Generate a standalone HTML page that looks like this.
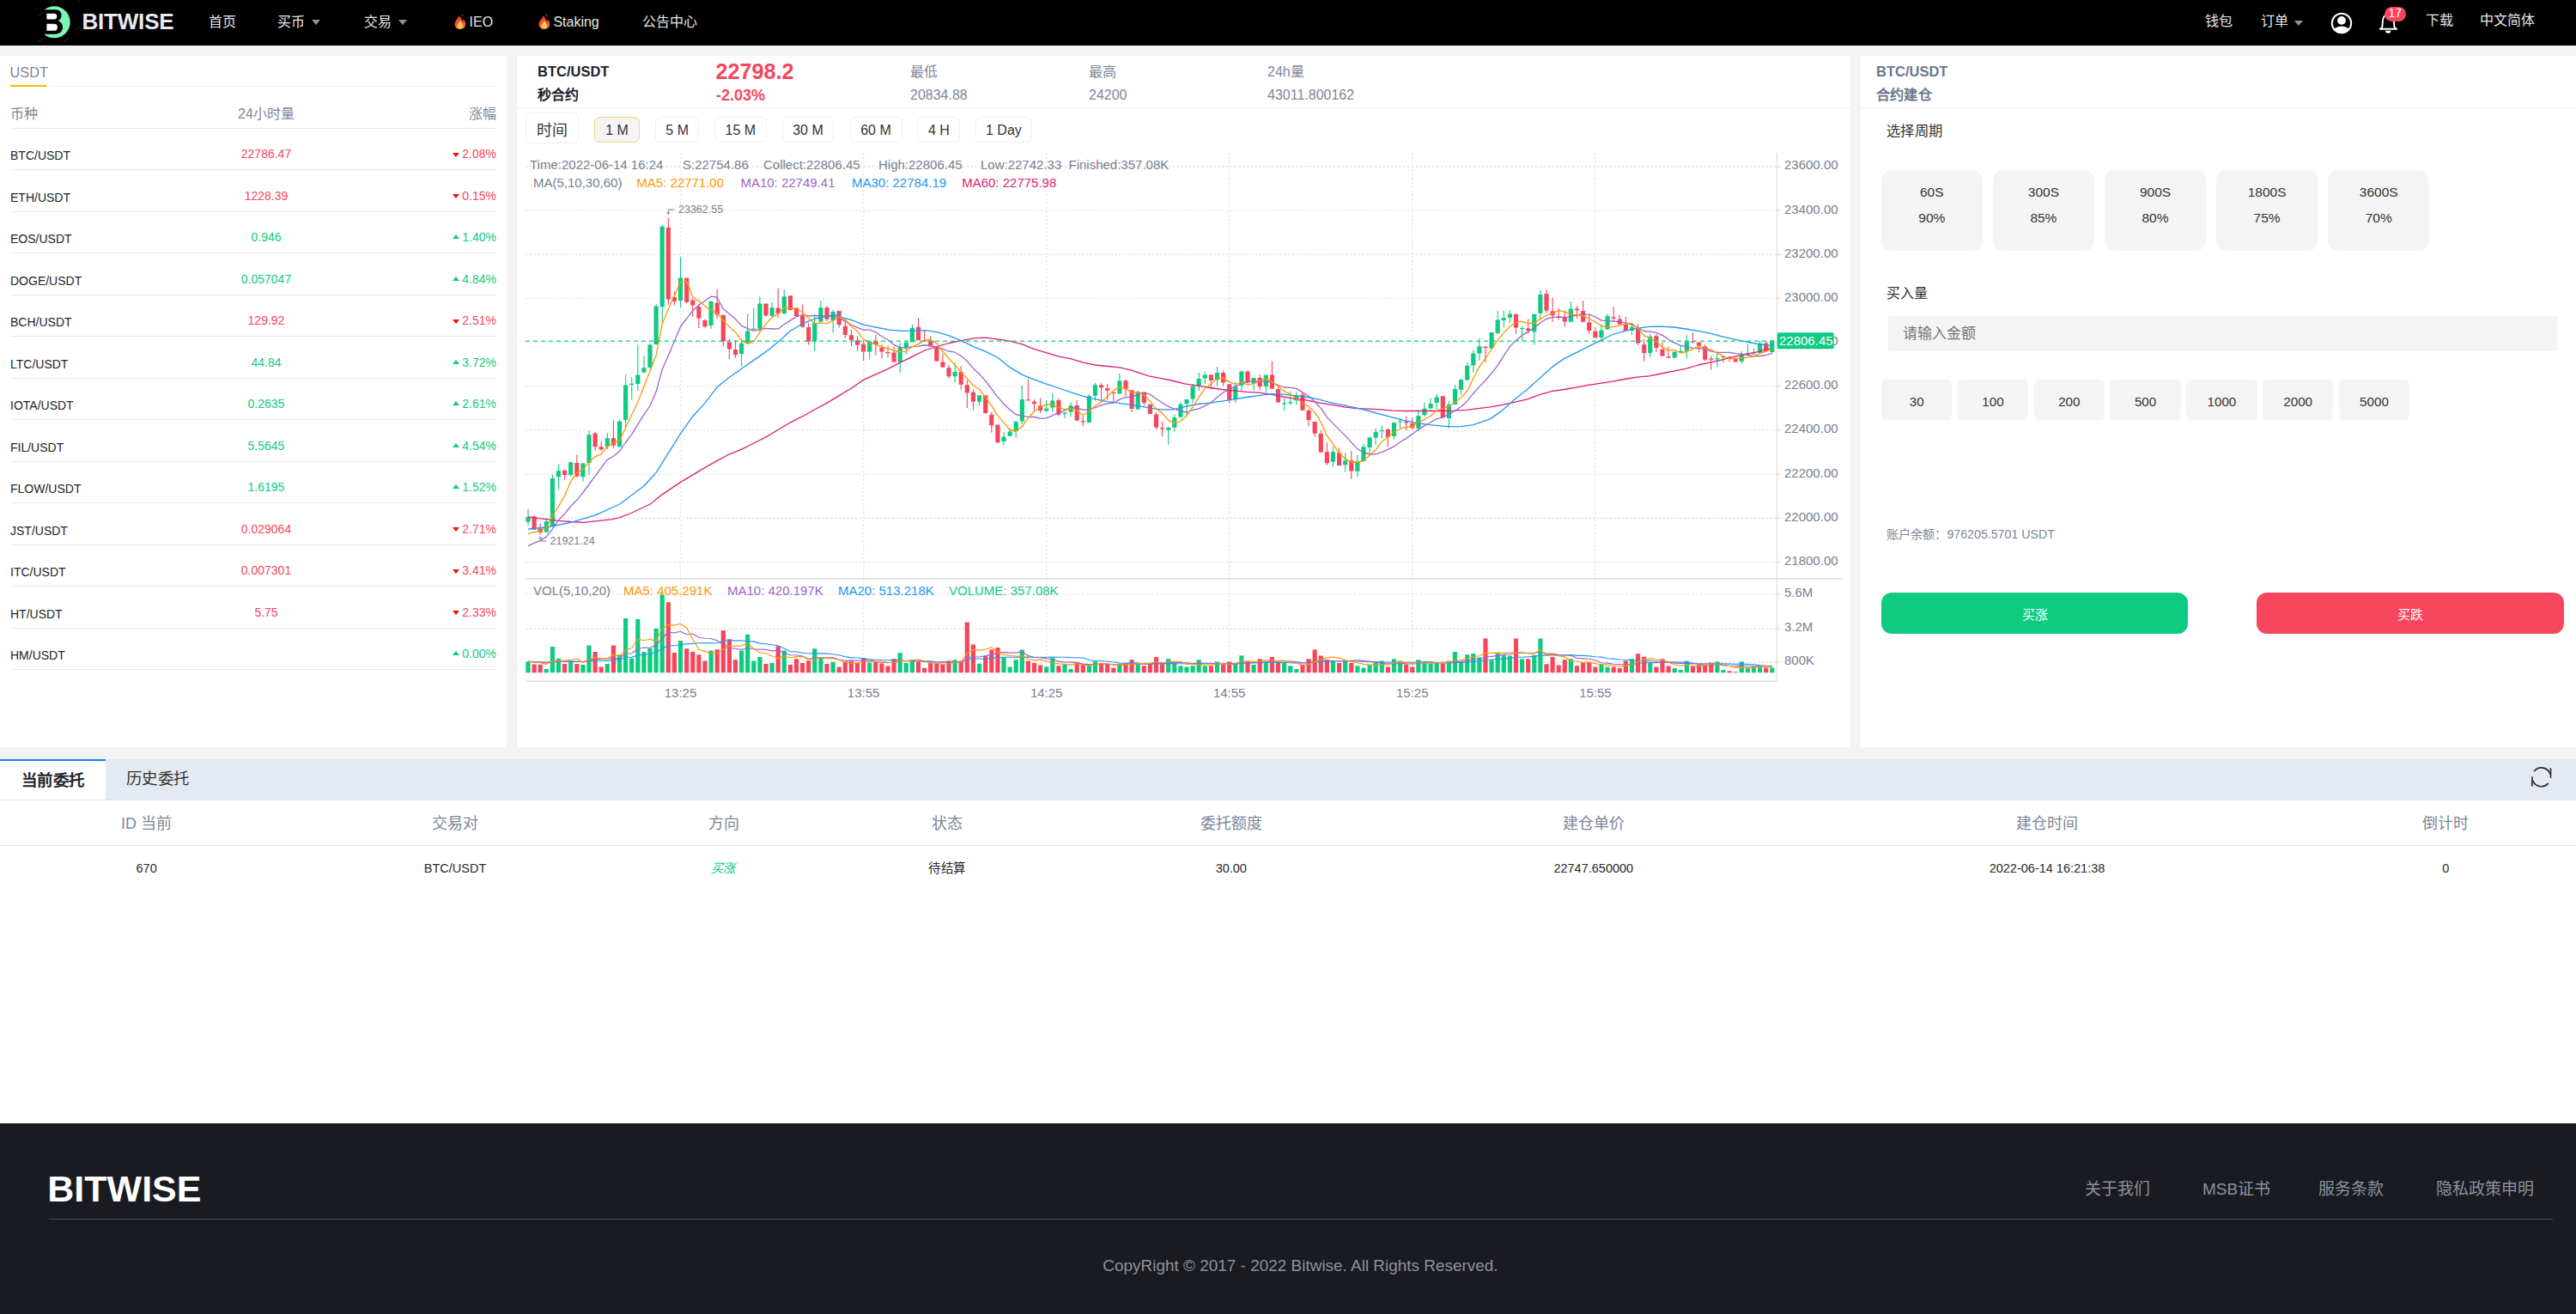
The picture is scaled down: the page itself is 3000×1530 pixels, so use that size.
<!DOCTYPE html>
<html lang="zh-CN"><head><meta charset="utf-8"><title>BITWISE - 秒合约</title>
<style>
*{margin:0;padding:0;box-sizing:content-box}
html,body{width:3000px;height:1530px;overflow:hidden;background:#f3f3f3;font-family:"Liberation Sans", sans-serif}
.box{position:absolute}
.t{position:absolute;white-space:nowrap}
.c{display:inline-block;width:1em;text-align:center}
svg text{font-family:"Liberation Sans", sans-serif}
.gd{stroke:#e3e3e3;stroke-width:1.3;stroke-dasharray:2.4,2.4}
.ax{font-size:15px;fill:#76808F}
.mk{font-size:12.5px;fill:#76808F}
.tt{font-size:15px;fill:#76808F}
</style></head>
<body>
<div class="box" style="left:0;top:0;width:3000px;height:53px;background:#000"></div>
<svg class="box" style="left:38px;top:0" width="62" height="53" viewBox="38 0 62 53">
<g stroke="#262626" stroke-width="1.1" stroke-linecap="round"><path d="M59.4 4.8L63.5 0.6M45.3 18.6L50.2 14.3M88.5 34.7L93.3 30.3M45.3 48.4L49.8 44.2M75.2 48.4L79.4 44.2"/></g>
<g fill="#222"><circle cx="40.9" cy="10.1" r="0.8"/><circle cx="40.9" cy="39.5" r="0.8"/><circle cx="84" cy="23.6" r="0.8"/><circle cx="92.5" cy="1" r="0.8"/></g>
<defs><clipPath id="lc"><rect x="52" y="0" width="40" height="53"/></clipPath></defs>
<circle cx="63.2" cy="25.8" r="18.5" fill="#7af7b6" clip-path="url(#lc)"/>
<path d="M52 11.3H64.5C69.5 11.3 71.6 14.5 71.6 17.8C71.6 21 69.8 23.2 67.8 24.3C71 25.4 73 28.2 73 31.6C73 36.5 69.6 39.8 64 39.8H52Z" fill="#000"/>
<path d="M54.4 15.7H63.2C65.2 15.7 66.3 17 66.3 19.1C66.3 21.3 65.2 22.6 63.2 22.6H54.4Z" fill="#fff"/>
<path d="M54.4 27.8H63.5C65.6 27.8 66.9 29.3 66.9 31.7C66.9 34.2 65.6 35.7 63.5 35.7H54.4Z" fill="#fff"/>
</svg>
<div class="t" style="left:95.5px;top:12.0px;font-size:26px;line-height:26px;color:#e9e9ef;font-weight:bold;letter-spacing:-0.2px;">BITWISE</div>
<div class="t" style="left:242.6px;top:17.5px;font-size:16px;line-height:16px;color:#e4e5e9;"><span class="c">首</span><span class="c">页</span></div>
<div class="t" style="left:323.4px;top:17.5px;font-size:16px;line-height:16px;color:#e4e5e9;"><span class="c">买</span><span class="c">币</span></div>
<div class="t" style="left:424.3px;top:17.5px;font-size:16px;line-height:16px;color:#e4e5e9;"><span class="c">交</span><span class="c">易</span></div>
<div class="box" style="left:363px;top:23.3px;width:0;height:0;border-left:5.2px solid transparent;border-right:5.2px solid transparent;border-top:6.2px solid #8a94a6"></div>
<div class="box" style="left:463.9px;top:23.3px;width:0;height:0;border-left:5.2px solid transparent;border-right:5.2px solid transparent;border-top:6.2px solid #8a94a6"></div>
<div class="box" style="left:528.5px;top:16px"><svg width="14" height="19" viewBox="0 0 14 19"><defs><linearGradient id="fg1" x1="0" y1="0" x2="0" y2="1"><stop offset="0" stop-color="#f2352a"/><stop offset="0.55" stop-color="#f0532e"/><stop offset="1" stop-color="#f49a2c"/></linearGradient><linearGradient id="fy1" x1="0" y1="0" x2="0" y2="1"><stop offset="0" stop-color="#fde88a"/><stop offset="1" stop-color="#f7b634"/></linearGradient></defs><path d="M5.9 2.2C7.5 4 8.8 6 9.3 8.4C9.8 7.8 10.5 7.3 11.3 7C12.5 8.6 13.3 10.4 13.2 12.3C13.1 15.6 10.4 18 6.9 18C3.4 18 0.6 15.6 0.6 12.2C0.6 8.5 3.6 6.2 5.9 2.2Z" fill="url(#fg1)"/><path d="M6.9 8C8 10.5 10.2 12.2 10.2 14.6C10.2 16.5 8.7 17.7 6.9 17.7C5.1 17.7 3.7 16.5 3.7 14.6C3.7 12.2 6 10.6 6.9 8Z" fill="url(#fy1)"/><path d="M8.5 1.2L9.9 0.5L10.7 2.3L9.3 3Z" fill="#c4301e"/></svg></div>
<div class="t" style="left:546.6px;top:17.5px;font-size:16px;line-height:16px;color:#e4e5e9;">IEO</div>
<div class="box" style="left:626.5px;top:16px"><svg width="14" height="19" viewBox="0 0 14 19"><defs><linearGradient id="fg2" x1="0" y1="0" x2="0" y2="1"><stop offset="0" stop-color="#f2352a"/><stop offset="0.55" stop-color="#f0532e"/><stop offset="1" stop-color="#f49a2c"/></linearGradient><linearGradient id="fy2" x1="0" y1="0" x2="0" y2="1"><stop offset="0" stop-color="#fde88a"/><stop offset="1" stop-color="#f7b634"/></linearGradient></defs><path d="M5.9 2.2C7.5 4 8.8 6 9.3 8.4C9.8 7.8 10.5 7.3 11.3 7C12.5 8.6 13.3 10.4 13.2 12.3C13.1 15.6 10.4 18 6.9 18C3.4 18 0.6 15.6 0.6 12.2C0.6 8.5 3.6 6.2 5.9 2.2Z" fill="url(#fg2)"/><path d="M6.9 8C8 10.5 10.2 12.2 10.2 14.6C10.2 16.5 8.7 17.7 6.9 17.7C5.1 17.7 3.7 16.5 3.7 14.6C3.7 12.2 6 10.6 6.9 8Z" fill="url(#fy2)"/><path d="M8.5 1.2L9.9 0.5L10.7 2.3L9.3 3Z" fill="#c4301e"/></svg></div>
<div class="t" style="left:644.4px;top:17.5px;font-size:16px;line-height:16px;color:#e4e5e9;">Staking</div>
<div class="t" style="left:748.4px;top:17.5px;font-size:16px;line-height:16px;color:#e4e5e9;"><span class="c">公</span><span class="c">告</span><span class="c">中</span><span class="c">心</span></div>
<div class="t" style="left:2568.0px;top:16.5px;font-size:16px;line-height:16px;color:#e4e5e9;"><span class="c">钱</span><span class="c">包</span></div>
<div class="t" style="left:2632.6px;top:16.5px;font-size:16px;line-height:16px;color:#e4e5e9;"><span class="c">订</span><span class="c">单</span></div>
<div class="box" style="left:2672px;top:23.5px;width:0;height:0;border-left:5.2px solid transparent;border-right:5.2px solid transparent;border-top:6.2px solid #8a94a6"></div>
<svg class="box" style="left:2713px;top:13px" width="28" height="28" viewBox="0 0 28 28">
<circle cx="14" cy="14" r="11.2" fill="none" stroke="#fff" stroke-width="2"/>
<circle cx="14" cy="10.9" r="4.9" fill="#fff"/>
<path d="M5.2 20.6Q14 14.2 22.8 20.6A11 11 0 0 1 5.2 20.6Z" fill="#fff"/>
</svg>
<svg class="box" style="left:2769px;top:14px" width="26" height="28" viewBox="0 0 26 28">
<path d="M2 19.8H22.9M3.4 19.8L5.3 17.6L6 9.5C6.3 5.5 9 3 12.4 3C15.8 3 18.5 5.5 18.8 9.5L19.5 17.6L21.5 19.8" fill="none" stroke="#fff" stroke-width="1.9" stroke-linejoin="round"/>
<path d="M9 21.7H15.4A3.2 3 0 0 1 9 21.7Z" fill="#fff"/>
</svg>
<div class="box" style="left:2776.7px;top:8px;width:25px;height:17.3px;border-radius:8.6px;background:#f6465d;color:#fff;font-size:14px;line-height:15.5px;text-align:center">17</div>
<div class="t" style="left:2824.5px;top:16.0px;font-size:16px;line-height:16px;color:#e4e5e9;"><span class="c">下</span><span class="c">载</span></div>
<div class="t" style="left:2888.0px;top:16.0px;font-size:16px;line-height:16px;color:#e4e5e9;"><span class="c">中</span><span class="c">文</span><span class="c">简</span><span class="c">体</span></div>
<div class="box" style="left:0;top:65px;width:590px;height:805px;background:#fff"></div>
<div class="t" style="left:11.6px;top:75.8px;font-size:16.3px;line-height:16.3px;color:#7c8698;">USDT</div>
<div class="box" style="left:12px;top:100px;width:566px;height:1px;background:#f0f0f0"></div>
<div class="box" style="left:12px;top:98.5px;width:42px;height:2.4px;background:#f0b90b"></div>
<div class="t" style="left:12.0px;top:124.5px;font-size:16px;line-height:16px;color:#7c8698;"><span class="c">币</span><span class="c">种</span></div>
<div class="t" style="left:10.0px;width:600px;text-align:center;top:124.5px;font-size:16px;line-height:16px;color:#7c8698;">24<span class="c">小</span><span class="c">时</span><span class="c">量</span></div>
<div class="t" style="right:2422.0px;text-align:right;top:124.5px;font-size:16px;line-height:16px;color:#7c8698;"><span class="c">涨</span><span class="c">幅</span></div>
<div class="box" style="left:12px;top:149px;width:566px;height:1px;background:#e6e9ee"></div>
<div class="t" style="left:12.0px;top:174.1px;font-size:14px;line-height:14px;color:#1e2329;">BTC/USDT</div>
<div class="t" style="left:10.0px;width:600px;text-align:center;top:172.1px;font-size:14px;line-height:14px;color:#f6465d;">22786.47</div>
<div class="t" style="right:2422.0px;text-align:right;top:172.1px;font-size:14px;line-height:14px;color:#f6465d;">2.08%</div>
<div class="box" style="left:527px;top:177.6px;width:0;height:0;border-left:4.2px solid transparent;border-right:4.2px solid transparent;border-top:5.6px solid #f20d0d"></div>
<div class="box" style="left:12px;top:197.0px;width:566px;height:1px;background:#e6e9ee"></div>
<div class="t" style="left:12.0px;top:222.6px;font-size:14px;line-height:14px;color:#1e2329;">ETH/USDT</div>
<div class="t" style="left:10.0px;width:600px;text-align:center;top:220.6px;font-size:14px;line-height:14px;color:#f6465d;">1228.39</div>
<div class="t" style="right:2422.0px;text-align:right;top:220.6px;font-size:14px;line-height:14px;color:#f6465d;">0.15%</div>
<div class="box" style="left:527px;top:226.1px;width:0;height:0;border-left:4.2px solid transparent;border-right:4.2px solid transparent;border-top:5.6px solid #f20d0d"></div>
<div class="box" style="left:12px;top:245.5px;width:566px;height:1px;background:#e6e9ee"></div>
<div class="t" style="left:12.0px;top:271.1px;font-size:14px;line-height:14px;color:#1e2329;">EOS/USDT</div>
<div class="t" style="left:10.0px;width:600px;text-align:center;top:269.1px;font-size:14px;line-height:14px;color:#0ecb81;">0.946</div>
<div class="t" style="right:2422.0px;text-align:right;top:269.1px;font-size:14px;line-height:14px;color:#0ecb81;">1.40%</div>
<div class="box" style="left:527px;top:273.4px;width:0;height:0;border-left:4.2px solid transparent;border-right:4.2px solid transparent;border-bottom:5px solid #0ecb81"></div>
<div class="box" style="left:12px;top:294.0px;width:566px;height:1px;background:#e6e9ee"></div>
<div class="t" style="left:12.0px;top:319.6px;font-size:14px;line-height:14px;color:#1e2329;">DOGE/USDT</div>
<div class="t" style="left:10.0px;width:600px;text-align:center;top:317.6px;font-size:14px;line-height:14px;color:#0ecb81;">0.057047</div>
<div class="t" style="right:2422.0px;text-align:right;top:317.6px;font-size:14px;line-height:14px;color:#0ecb81;">4.84%</div>
<div class="box" style="left:527px;top:321.9px;width:0;height:0;border-left:4.2px solid transparent;border-right:4.2px solid transparent;border-bottom:5px solid #0ecb81"></div>
<div class="box" style="left:12px;top:342.5px;width:566px;height:1px;background:#e6e9ee"></div>
<div class="t" style="left:12.0px;top:368.1px;font-size:14px;line-height:14px;color:#1e2329;">BCH/USDT</div>
<div class="t" style="left:10.0px;width:600px;text-align:center;top:366.1px;font-size:14px;line-height:14px;color:#f6465d;">129.92</div>
<div class="t" style="right:2422.0px;text-align:right;top:366.1px;font-size:14px;line-height:14px;color:#f6465d;">2.51%</div>
<div class="box" style="left:527px;top:371.6px;width:0;height:0;border-left:4.2px solid transparent;border-right:4.2px solid transparent;border-top:5.6px solid #f20d0d"></div>
<div class="box" style="left:12px;top:391.0px;width:566px;height:1px;background:#e6e9ee"></div>
<div class="t" style="left:12.0px;top:416.6px;font-size:14px;line-height:14px;color:#1e2329;">LTC/USDT</div>
<div class="t" style="left:10.0px;width:600px;text-align:center;top:414.6px;font-size:14px;line-height:14px;color:#0ecb81;">44.84</div>
<div class="t" style="right:2422.0px;text-align:right;top:414.6px;font-size:14px;line-height:14px;color:#0ecb81;">3.72%</div>
<div class="box" style="left:527px;top:418.9px;width:0;height:0;border-left:4.2px solid transparent;border-right:4.2px solid transparent;border-bottom:5px solid #0ecb81"></div>
<div class="box" style="left:12px;top:439.5px;width:566px;height:1px;background:#e6e9ee"></div>
<div class="t" style="left:12.0px;top:465.1px;font-size:14px;line-height:14px;color:#1e2329;">IOTA/USDT</div>
<div class="t" style="left:10.0px;width:600px;text-align:center;top:463.1px;font-size:14px;line-height:14px;color:#0ecb81;">0.2635</div>
<div class="t" style="right:2422.0px;text-align:right;top:463.1px;font-size:14px;line-height:14px;color:#0ecb81;">2.61%</div>
<div class="box" style="left:527px;top:467.4px;width:0;height:0;border-left:4.2px solid transparent;border-right:4.2px solid transparent;border-bottom:5px solid #0ecb81"></div>
<div class="box" style="left:12px;top:488.0px;width:566px;height:1px;background:#e6e9ee"></div>
<div class="t" style="left:12.0px;top:513.6px;font-size:14px;line-height:14px;color:#1e2329;">FIL/USDT</div>
<div class="t" style="left:10.0px;width:600px;text-align:center;top:511.6px;font-size:14px;line-height:14px;color:#0ecb81;">5.5645</div>
<div class="t" style="right:2422.0px;text-align:right;top:511.6px;font-size:14px;line-height:14px;color:#0ecb81;">4.54%</div>
<div class="box" style="left:527px;top:515.9px;width:0;height:0;border-left:4.2px solid transparent;border-right:4.2px solid transparent;border-bottom:5px solid #0ecb81"></div>
<div class="box" style="left:12px;top:536.5px;width:566px;height:1px;background:#e6e9ee"></div>
<div class="t" style="left:12.0px;top:562.1px;font-size:14px;line-height:14px;color:#1e2329;">FLOW/USDT</div>
<div class="t" style="left:10.0px;width:600px;text-align:center;top:560.1px;font-size:14px;line-height:14px;color:#0ecb81;">1.6195</div>
<div class="t" style="right:2422.0px;text-align:right;top:560.1px;font-size:14px;line-height:14px;color:#0ecb81;">1.52%</div>
<div class="box" style="left:527px;top:564.4px;width:0;height:0;border-left:4.2px solid transparent;border-right:4.2px solid transparent;border-bottom:5px solid #0ecb81"></div>
<div class="box" style="left:12px;top:585.0px;width:566px;height:1px;background:#e6e9ee"></div>
<div class="t" style="left:12.0px;top:610.6px;font-size:14px;line-height:14px;color:#1e2329;">JST/USDT</div>
<div class="t" style="left:10.0px;width:600px;text-align:center;top:608.6px;font-size:14px;line-height:14px;color:#f6465d;">0.029064</div>
<div class="t" style="right:2422.0px;text-align:right;top:608.6px;font-size:14px;line-height:14px;color:#f6465d;">2.71%</div>
<div class="box" style="left:527px;top:614.1px;width:0;height:0;border-left:4.2px solid transparent;border-right:4.2px solid transparent;border-top:5.6px solid #f20d0d"></div>
<div class="box" style="left:12px;top:633.5px;width:566px;height:1px;background:#e6e9ee"></div>
<div class="t" style="left:12.0px;top:659.1px;font-size:14px;line-height:14px;color:#1e2329;">ITC/USDT</div>
<div class="t" style="left:10.0px;width:600px;text-align:center;top:657.1px;font-size:14px;line-height:14px;color:#f6465d;">0.007301</div>
<div class="t" style="right:2422.0px;text-align:right;top:657.1px;font-size:14px;line-height:14px;color:#f6465d;">3.41%</div>
<div class="box" style="left:527px;top:662.6px;width:0;height:0;border-left:4.2px solid transparent;border-right:4.2px solid transparent;border-top:5.6px solid #f20d0d"></div>
<div class="box" style="left:12px;top:682.0px;width:566px;height:1px;background:#e6e9ee"></div>
<div class="t" style="left:12.0px;top:707.6px;font-size:14px;line-height:14px;color:#1e2329;">HT/USDT</div>
<div class="t" style="left:10.0px;width:600px;text-align:center;top:705.6px;font-size:14px;line-height:14px;color:#f6465d;">5.75</div>
<div class="t" style="right:2422.0px;text-align:right;top:705.6px;font-size:14px;line-height:14px;color:#f6465d;">2.33%</div>
<div class="box" style="left:527px;top:711.1px;width:0;height:0;border-left:4.2px solid transparent;border-right:4.2px solid transparent;border-top:5.6px solid #f20d0d"></div>
<div class="box" style="left:12px;top:730.5px;width:566px;height:1px;background:#e6e9ee"></div>
<div class="t" style="left:12.0px;top:756.1px;font-size:14px;line-height:14px;color:#1e2329;">HM/USDT</div>
<div class="t" style="right:2422.0px;text-align:right;top:754.1px;font-size:14px;line-height:14px;color:#0ecb81;">0.00%</div>
<div class="box" style="left:527px;top:758.4px;width:0;height:0;border-left:4.2px solid transparent;border-right:4.2px solid transparent;border-bottom:5px solid #0ecb81"></div>
<div class="box" style="left:12px;top:779.0px;width:566px;height:1px;background:#e6e9ee"></div>
<div class="box" style="left:602px;top:65px;width:1553px;height:805px;background:#fff"></div>
<div class="t" style="left:626.0px;top:75.3px;font-size:16.5px;line-height:16.5px;color:#1e2329;font-weight:bold;">BTC/USDT</div>
<div class="t" style="left:626.0px;top:102.5px;font-size:16px;line-height:16px;color:#1e2329;font-weight:bold;"><span class="c">秒</span><span class="c">合</span><span class="c">约</span></div>
<div class="t" style="left:833.5px;top:71.1px;font-size:25.2px;line-height:25.2px;color:#f6465d;font-weight:bold;">22798.2</div>
<div class="t" style="left:834.0px;top:101.8px;font-size:18px;line-height:18px;color:#f6465d;font-weight:bold;">-2.03%</div>
<div class="t" style="left:1060.0px;top:75.5px;font-size:16px;line-height:16px;color:#7c8698;"><span class="c">最</span><span class="c">低</span></div>
<div class="t" style="left:1060.0px;top:102.5px;font-size:16px;line-height:16px;color:#7c8698;">20834.88</div>
<div class="t" style="left:1268.0px;top:75.5px;font-size:16px;line-height:16px;color:#7c8698;"><span class="c">最</span><span class="c">高</span></div>
<div class="t" style="left:1268.0px;top:102.5px;font-size:16px;line-height:16px;color:#7c8698;">24200</div>
<div class="t" style="left:1476.0px;top:75.5px;font-size:16px;line-height:16px;color:#7c8698;">24h<span class="c">量</span></div>
<div class="t" style="left:1476.0px;top:102.5px;font-size:16px;line-height:16px;color:#7c8698;">43011.800162</div>
<div class="box" style="left:602px;top:124.8px;width:1553px;height:1.6px;background:#f1f1f1"></div>
<div class="box" style="left:611.8px;top:131.2px;width:62.7px;height:35.6px;box-sizing:border-box;border:1px solid #eeeeee;border-radius:7px;background:#fff"></div>
<div class="t" style="left:343.1px;width:600px;text-align:center;top:142.8px;font-size:18px;line-height:18px;color:#333;"><span class="c">时</span><span class="c">间</span></div>
<div class="box" style="left:692.3px;top:136.2px;width:52.3px;height:30.1px;box-sizing:border-box;border:1.2px solid #f3d77e;background:#f4f4f4;border-radius:6px"></div>
<div class="t" style="left:418.5px;width:600px;text-align:center;top:143.9px;font-size:16px;line-height:16px;color:#333;">1 M</div>
<div class="box" style="left:762.9px;top:136.2px;width:51.6px;height:30.1px;box-sizing:border-box;border:1px solid #f0f0f0;background:#fff;border-radius:6px"></div>
<div class="t" style="left:488.7px;width:600px;text-align:center;top:143.9px;font-size:16px;line-height:16px;color:#333;">5 M</div>
<div class="box" style="left:832px;top:136.2px;width:60.6px;height:30.1px;box-sizing:border-box;border:1px solid #f0f0f0;background:#fff;border-radius:6px"></div>
<div class="t" style="left:562.3px;width:600px;text-align:center;top:143.9px;font-size:16px;line-height:16px;color:#333;">15 M</div>
<div class="box" style="left:910.9px;top:136.2px;width:60.3px;height:30.1px;box-sizing:border-box;border:1px solid #f0f0f0;background:#fff;border-radius:6px"></div>
<div class="t" style="left:641.0px;width:600px;text-align:center;top:143.9px;font-size:16px;line-height:16px;color:#333;">30 M</div>
<div class="box" style="left:989.5px;top:136.2px;width:61.1px;height:30.1px;box-sizing:border-box;border:1px solid #f0f0f0;background:#fff;border-radius:6px"></div>
<div class="t" style="left:720.0px;width:600px;text-align:center;top:143.9px;font-size:16px;line-height:16px;color:#333;">60 M</div>
<div class="box" style="left:1068.3px;top:136.2px;width:50.2px;height:30.1px;box-sizing:border-box;border:1px solid #f0f0f0;background:#fff;border-radius:6px"></div>
<div class="t" style="left:793.4px;width:600px;text-align:center;top:143.9px;font-size:16px;line-height:16px;color:#333;">4 H</div>
<div class="box" style="left:1135.8px;top:136.2px;width:66.2px;height:30.1px;box-sizing:border-box;border:1px solid #f0f0f0;background:#fff;border-radius:6px"></div>
<div class="t" style="left:868.9px;width:600px;text-align:center;top:143.9px;font-size:16px;line-height:16px;color:#333;">1 Day</div>
<svg class="box" style="left:0;top:0" width="3000" height="870" viewBox="0 0 3000 870"><line x1="612" y1="194" x2="2069.5" y2="194" class="gd"/>
<line x1="612" y1="245.2" x2="2069.5" y2="245.2" class="gd"/>
<line x1="612" y1="296.4" x2="2069.5" y2="296.4" class="gd"/>
<line x1="612" y1="347.6" x2="2069.5" y2="347.6" class="gd"/>
<line x1="612" y1="398.8" x2="2069.5" y2="398.8" class="gd"/>
<line x1="612" y1="449.9" x2="2069.5" y2="449.9" class="gd"/>
<line x1="612" y1="501.1" x2="2069.5" y2="501.1" class="gd"/>
<line x1="612" y1="552.3" x2="2069.5" y2="552.3" class="gd"/>
<line x1="612" y1="603.5" x2="2069.5" y2="603.5" class="gd"/>
<line x1="612" y1="654.7" x2="2069.5" y2="654.7" class="gd"/>
<line x1="612" y1="691.6" x2="2069.5" y2="691.6" class="gd"/>
<line x1="612" y1="732.0" x2="2069.5" y2="732.0" class="gd"/>
<line x1="612" y1="771.0" x2="2069.5" y2="771.0" class="gd"/>
<line x1="792.5" y1="178" x2="792.5" y2="673" class="gd"/>
<line x1="792.5" y1="674" x2="792.5" y2="793" class="gd"/>
<line x1="1005.6" y1="178" x2="1005.6" y2="673" class="gd"/>
<line x1="1005.6" y1="674" x2="1005.6" y2="793" class="gd"/>
<line x1="1218.7" y1="178" x2="1218.7" y2="673" class="gd"/>
<line x1="1218.7" y1="674" x2="1218.7" y2="793" class="gd"/>
<line x1="1431.7" y1="178" x2="1431.7" y2="673" class="gd"/>
<line x1="1431.7" y1="674" x2="1431.7" y2="793" class="gd"/>
<line x1="1644.8" y1="178" x2="1644.8" y2="673" class="gd"/>
<line x1="1644.8" y1="674" x2="1644.8" y2="793" class="gd"/>
<line x1="1857.9" y1="178" x2="1857.9" y2="673" class="gd"/>
<line x1="1857.9" y1="674" x2="1857.9" y2="793" class="gd"/>
<line x1="2069.5" y1="178" x2="2069.5" y2="793.5" stroke="#dddddd" stroke-width="1.2"/>
<line x1="612" y1="673.7" x2="2146" y2="673.7" stroke="#dddddd" stroke-width="1.4"/>
<line x1="612" y1="793.2" x2="2069.5" y2="793.2" stroke="#dddddd" stroke-width="1.4"/>
<line x1="2069.5" y1="194" x2="2073.5" y2="194" stroke="#dddddd" stroke-width="1.2"/>
<line x1="2069.5" y1="245.2" x2="2073.5" y2="245.2" stroke="#dddddd" stroke-width="1.2"/>
<line x1="2069.5" y1="296.4" x2="2073.5" y2="296.4" stroke="#dddddd" stroke-width="1.2"/>
<line x1="2069.5" y1="347.6" x2="2073.5" y2="347.6" stroke="#dddddd" stroke-width="1.2"/>
<line x1="2069.5" y1="398.8" x2="2073.5" y2="398.8" stroke="#dddddd" stroke-width="1.2"/>
<line x1="2069.5" y1="449.9" x2="2073.5" y2="449.9" stroke="#dddddd" stroke-width="1.2"/>
<line x1="2069.5" y1="501.1" x2="2073.5" y2="501.1" stroke="#dddddd" stroke-width="1.2"/>
<line x1="2069.5" y1="552.3" x2="2073.5" y2="552.3" stroke="#dddddd" stroke-width="1.2"/>
<line x1="2069.5" y1="603.5" x2="2073.5" y2="603.5" stroke="#dddddd" stroke-width="1.2"/>
<line x1="2069.5" y1="654.7" x2="2073.5" y2="654.7" stroke="#dddddd" stroke-width="1.2"/>
<line x1="2069.5" y1="691.6" x2="2073.5" y2="691.6" stroke="#dddddd" stroke-width="1.2"/>
<line x1="2069.5" y1="732" x2="2073.5" y2="732" stroke="#dddddd" stroke-width="1.2"/>
<line x1="2069.5" y1="771" x2="2073.5" y2="771" stroke="#dddddd" stroke-width="1.2"/>
<path fill="#0ecb81" d="M612.4 602h5.2v5.6h-5.2zM614.5 592.9h1.1v19.3h-1.1zM633.7 607h5.2v12.5h-5.2zM635.8 602.9h1.1v17.2h-1.1zM640.8 557h5.2v55.2h-5.2zM642.9 553h1.1v60.2h-1.1zM647.9 548.3h5.2v6.9h-5.2zM650 540.5h1.1v29.6h-1.1zM662.1 538.3h5.2v14.7h-5.2zM664.2 537.4h1.1v17.2h-1.1zM676.3 539.6h5.2v15.6h-5.2zM678.4 538.9h1.1v21.8h-1.1zM683.4 506.2h5.2v32.8h-5.2zM685.5 501.5h1.1v51.5h-1.1zM704.7 510.2h5.2v10h-5.2zM706.8 504h1.1v19.3h-1.1zM718.9 490.6h5.2v29.6h-5.2zM721 489h1.1v31.8h-1.1zM726 448.4h5.2v40.6h-5.2zM728.1 436h1.1v61.8h-1.1zM733.1 446.8h5.2v1.2h-5.2zM735.2 439.1h1.1v26.5h-1.1zM740.2 436.6h5.2v10.3h-5.2zM742.3 401.6h1.1v53.1h-1.1zM747.3 428.2h5.2v5.3h-5.2zM749.4 414.7h1.1v19.7h-1.1zM754.4 401.6h5.2v26.5h-5.2zM756.5 400.1h1.1v29.6h-1.1zM761.5 356.4h5.2v44.6h-5.2zM763.6 354.2h1.1v47.4h-1.1zM768.6 263.7h5.2v93.6h-5.2zM770.7 262.1h1.1v114.5h-1.1zM789.9 323.6h5.2v26.5h-5.2zM792 299.3h1.1v58.7h-1.1zM825.5 351.1h5.2v28h-5.2zM827.5 349.9h1.1v32.9h-1.1zM861 399.8h5.2v12.2h-5.2zM863 394.4h1.1v32.3h-1.1zM868.1 385.2h5.2v14h-5.2zM870.1 365.7h1.1v35.3h-1.1zM875.2 382.5h5.2v1.2h-5.2zM877.2 358.4h1.1v25.6h-1.1zM882.3 353.6h5.2v29.2h-5.2zM884.3 345.3h1.1v41.2h-1.1zM896.5 358.2h5.2v9.4h-5.2zM898.5 352.1h1.1v17.3h-1.1zM910.7 345.3h5.2v19.8h-5.2zM912.7 337.1h1.1v29.2h-1.1zM946.2 376.1h5.2v21.3h-5.2zM948.2 366.7h1.1v42.2h-1.1zM953.3 358.2h5.2v16.3h-5.2zM955.3 349.9h1.1v25.6h-1.1zM967.5 363.1h5.2v10h-5.2zM969.6 360.6h1.1v27h-1.1zM1010.1 397.4h5.2v12.2h-5.2zM1012.2 396.2h1.1v22.5h-1.1zM1045.6 404.6h5.2v17.2h-5.2zM1047.7 399.5h1.1v34.3h-1.1zM1052.7 398.8h5.2v6.5h-5.2zM1054.8 397.5h1.1v14.9h-1.1zM1059.8 382h5.2v16.2h-5.2zM1061.9 378.1h1.1v20.4h-1.1zM1109.5 433.1h5.2v5.2h-5.2zM1111.6 422.4h1.1v23h-1.1zM1137.9 460.3h5.2v7.4h-5.2zM1140 460.3h1.1v12.3h-1.1zM1166.4 508.8h5.2v5.2h-5.2zM1168.4 503h1.1v15.5h-1.1zM1173.5 502.4h5.2v5.4h-5.2zM1175.5 498.7h1.1v9.4h-1.1zM1180.6 491h5.2v11.1h-5.2zM1182.6 489.7h1.1v19.8h-1.1zM1187.7 465.1h5.2v25.4h-5.2zM1189.7 448.7h1.1v45.3h-1.1zM1216.1 475.8h5.2v2.6h-5.2zM1218.1 466.4h1.1v13.3h-1.1zM1223.2 466.4h5.2v8.2h-5.2zM1225.2 458.1h1.1v21.6h-1.1zM1237.4 480.4h5.2v1.6h-5.2zM1239.4 479.7h1.1v7.1h-1.1zM1244.5 472.3h5.2v7.4h-5.2zM1246.5 468.5h1.1v16.8h-1.1zM1265.8 461.3h5.2v30.4h-5.2zM1267.8 458.9h1.1v33.8h-1.1zM1272.9 448.2h5.2v12.5h-5.2zM1274.9 446.1h1.1v20.5h-1.1zM1301.3 443.6h5.2v14.8h-5.2zM1303.3 435.1h1.1v23.5h-1.1zM1322.6 456.1h5.2v20.5h-5.2zM1324.7 455.2h1.1v22.4h-1.1zM1358.1 498.1h5.2v2.7h-5.2zM1360.2 496.8h1.1v21.2h-1.1zM1365.2 486.3h5.2v11.4h-5.2zM1367.3 482.6h1.1v20.1h-1.1zM1372.3 470.7h5.2v14.9h-5.2zM1374.4 468h1.1v19.2h-1.1zM1379.4 465h5.2v5.3h-5.2zM1381.5 465h1.1v19.5h-1.1zM1386.5 449.7h5.2v14.9h-5.2zM1388.6 447h1.1v22.4h-1.1zM1393.6 441.1h5.2v7.8h-5.2zM1395.7 433.9h1.1v21.3h-1.1zM1400.7 436.5h5.2v4.1h-5.2zM1402.8 432.8h1.1v14.2h-1.1zM1414.9 433.9h5.2v8.5h-5.2zM1417 426.9h1.1v22.8h-1.1zM1436.2 449.5h5.2v15.8h-5.2zM1438.3 444.5h1.1v24.8h-1.1zM1443.3 432.6h5.2v16.2h-5.2zM1445.4 431.5h1.1v23.3h-1.1zM1457.5 440h5.2v6.6h-5.2zM1459.6 439.7h1.1v15.3h-1.1zM1471.7 436.6h5.2v13.4h-5.2zM1473.8 436.6h1.1v19.8h-1.1zM1493 469.3h5.2v1.2h-5.2zM1495.1 463.4h1.1v14.3h-1.1zM1500.2 468.2h5.2v1.2h-5.2zM1502.2 455.4h1.1v16.2h-1.1zM1507.3 460.5h5.2v5.7h-5.2zM1509.3 456.5h1.1v15.1h-1.1zM1549.9 526.2h5.2v11.6h-5.2zM1551.9 520.2h1.1v23.6h-1.1zM1564.1 536.2h5.2v5h-5.2zM1566.1 527.3h1.1v22.3h-1.1zM1578.3 537h5.2v11.8h-5.2zM1580.3 529.8h1.1v25.8h-1.1zM1585.4 520.2h5.2v16.8h-5.2zM1587.4 517h1.1v20.6h-1.1zM1592.5 509.6h5.2v11.4h-5.2zM1594.5 508.5h1.1v20h-1.1zM1599.6 503.1h5.2v6.5h-5.2zM1601.6 498.8h1.1v19.2h-1.1zM1606.7 501.1h5.2v1.2h-5.2zM1608.7 495.4h1.1v15.4h-1.1zM1620.9 491.9h5.2v16h-5.2zM1622.9 491.9h1.1v19.6h-1.1zM1628 490.4h5.2v1.2h-5.2zM1630 487.1h1.1v11.6h-1.1zM1649.3 484.2h5.2v14.6h-5.2zM1651.3 476.9h1.1v25.3h-1.1zM1656.4 475.7h5.2v7.6h-5.2zM1658.4 468.5h1.1v17.1h-1.1zM1663.5 470h5.2v5.2h-5.2zM1665.5 463.6h1.1v13.7h-1.1zM1670.6 462.6h5.2v6.4h-5.2zM1672.6 458.7h1.1v18.1h-1.1zM1684.8 470.9h5.2v16h-5.2zM1686.9 467.2h1.1v31.5h-1.1zM1691.9 453.1h5.2v17.8h-5.2zM1694 448.3h1.1v23h-1.1zM1699 442.1h5.2v11.7h-5.2zM1701.1 441.2h1.1v18.3h-1.1zM1706.1 425.7h5.2v16.9h-5.2zM1708.2 422.2h1.1v20.8h-1.1zM1713.2 411.5h5.2v14h-5.2zM1715.3 408.1h1.1v25.6h-1.1zM1720.3 403.3h5.2v8.2h-5.2zM1722.4 393.7h1.1v26h-1.1zM1734.5 387.1h5.2v18.7h-5.2zM1736.6 387.1h1.1v19.2h-1.1zM1741.6 372.5h5.2v15.5h-5.2zM1743.7 361.8h1.1v26.7h-1.1zM1748.7 370.2h5.2v2.9h-5.2zM1750.8 361.8h1.1v19.8h-1.1zM1755.8 365.5h5.2v4.3h-5.2zM1757.9 360.9h1.1v14.8h-1.1zM1770 381.9h5.2v1.2h-5.2zM1772.1 379.8h1.1v16.9h-1.1zM1784.2 365.7h5.2v20.5h-5.2zM1786.3 365.7h1.1v36.1h-1.1zM1791.3 343h5.2v21.7h-5.2zM1793.4 338.1h1.1v33.1h-1.1zM1826.8 359.5h5.2v15.2h-5.2zM1828.9 351.2h1.1v23.6h-1.1zM1862.4 384.4h5.2v8.7h-5.2zM1864.4 377.4h1.1v19.4h-1.1zM1869.5 367.9h5.2v15.5h-5.2zM1871.5 365.5h1.1v18.4h-1.1zM1897.9 381h5.2v4.1h-5.2zM1899.9 375.9h1.1v14h-1.1zM1919.2 391.7h5.2v19.2h-5.2zM1921.2 388.4h1.1v27.7h-1.1zM1947.6 409.4h5.2v7h-5.2zM1949.6 409.4h1.1v7.7h-1.1zM1954.7 408.8h5.2v1.2h-5.2zM1956.7 403.1h1.1v7h-1.1zM1961.8 397.6h5.2v11.1h-5.2zM1963.8 390.2h1.1v26.9h-1.1zM1997.3 417.3h5.2v1.2h-5.2zM1999.3 411.6h1.1v15.1h-1.1zM2004.4 415.1h5.2v1.2h-5.2zM2006.4 414.6h1.1v7.4h-1.1zM2025.7 413.8h5.2v7h-5.2zM2027.7 409h1.1v14.4h-1.1zM2032.8 411.5h5.2v1.2h-5.2zM2034.9 400.9h1.1v11.8h-1.1zM2039.9 411.5h5.2v1.2h-5.2zM2042 405.7h1.1v7h-1.1zM2047 399.8h5.2v11.1h-5.2zM2049.1 396.5h1.1v14.4h-1.1zM2061.2 396.5h5.2v13.6h-5.2zM2063.3 396.5h1.1v14.4h-1.1z"/>
<path fill="#f6465d" d="M619.5 601.4h5.2v15h-5.2zM621.6 599.8h1.1v17.2h-1.1zM626.6 615.4h5.2v4.7h-5.2zM628.7 609.2h1.1v13.4h-1.1zM655 547.7h5.2v5.3h-5.2zM657.1 546.7h1.1v12.5h-1.1zM669.2 538.9h5.2v15.6h-5.2zM671.3 529.6h1.1v26.5h-1.1zM690.5 504.6h5.2v15.6h-5.2zM692.6 503.1h1.1v21.8h-1.1zM697.6 520.2h5.2v3.1h-5.2zM699.7 513.4h1.1v11.5h-1.1zM711.8 510.2h5.2v8.4h-5.2zM713.9 489.6h1.1v32.1h-1.1zM775.7 265h5.2v83.6h-5.2zM777.8 253.4h1.1v101.4h-1.1zM782.8 346.1h5.2v5h-5.2zM784.9 339.2h1.1v16.2h-1.1zM797.1 323.6h5.2v28.1h-5.2zM799.1 323.6h1.1v29.6h-1.1zM804.2 349.5h5.2v5.9h-5.2zM806.2 348h1.1v20.9h-1.1zM811.3 357.3h5.2v13.1h-5.2zM813.3 354.8h1.1v27.1h-1.1zM818.4 373h5.2v7.3h-5.2zM820.4 371.8h1.1v9.7h-1.1zM832.6 352.4h5.2v14h-5.2zM834.6 337.1h1.1v34.1h-1.1zM839.7 366.7h5.2v30.7h-5.2zM841.7 366.7h1.1v36.2h-1.1zM846.8 398.6h5.2v7.9h-5.2zM848.8 394.4h1.1v23.7h-1.1zM853.9 407.1h5.2v6.1h-5.2zM855.9 396.2h1.1v20.7h-1.1zM889.4 353.6h5.2v14h-5.2zM891.4 353.6h1.1v15.2h-1.1zM903.6 358.4h5.2v6.7h-5.2zM905.6 335.7h1.1v34h-1.1zM917.8 344.2h5.2v16.7h-5.2zM919.8 344.2h1.1v17.3h-1.1zM924.9 358.4h5.2v9.7h-5.2zM926.9 358.2h1.1v10.2h-1.1zM932 367.6h5.2v13h-5.2zM934 354.8h1.1v26.8h-1.1zM939.1 381h5.2v16.4h-5.2zM941.1 376.1h1.1v25.6h-1.1zM960.4 358.2h5.2v13.6h-5.2zM962.4 356h1.1v18.5h-1.1zM974.6 362.1h5.2v15.8h-5.2zM976.7 362.1h1.1v19.5h-1.1zM981.7 379.7h5.2v10.3h-5.2zM983.8 375.5h1.1v18.3h-1.1zM988.8 390.3h5.2v5.8h-5.2zM990.9 384h1.1v18.9h-1.1zM995.9 396.2h5.2v5.5h-5.2zM998 391.3h1.1v17.7h-1.1zM1003 400.8h5.2v8.8h-5.2zM1005.1 396.2h1.1v23.7h-1.1zM1017.2 397.4h5.2v3.7h-5.2zM1019.3 390.1h1.1v23.7h-1.1zM1024.3 404.7h5.2v4.9h-5.2zM1026.4 401.1h1.1v16.4h-1.1zM1031.4 410h5.2v1.2h-5.2zM1033.5 402.3h1.1v14h-1.1zM1038.5 410.5h5.2v11h-5.2zM1040.6 403.4h1.1v18.5h-1.1zM1066.9 380.7h5.2v15.3h-5.2zM1069 370.1h1.1v26.4h-1.1zM1074 396.4h5.2v1.2h-5.2zM1076.1 385.2h1.1v12.9h-1.1zM1081.1 396.9h5.2v6.5h-5.2zM1083.2 391.3h1.1v12.7h-1.1zM1088.2 404.6h5.2v15.9h-5.2zM1090.3 404.6h1.1v16.2h-1.1zM1095.3 421.5h5.2v6.1h-5.2zM1097.4 411.8h1.1v16.2h-1.1zM1102.4 428.3h5.2v10h-5.2zM1104.5 424.7h1.1v16.2h-1.1zM1116.6 433.1h5.2v14.6h-5.2zM1118.7 426h1.1v27.8h-1.1zM1123.7 448.3h5.2v9.1h-5.2zM1125.8 442.8h1.1v32.1h-1.1zM1130.8 456.8h5.2v10.9h-5.2zM1132.9 453.2h1.1v24.3h-1.1zM1145.1 460.3h5.2v20.7h-5.2zM1147.1 460.3h1.1v21.6h-1.1zM1152.2 482.7h5.2v12.6h-5.2zM1154.2 479.7h1.1v23.7h-1.1zM1159.3 494.6h5.2v20.7h-5.2zM1161.3 494.6h1.1v21.7h-1.1zM1194.8 465.2h5.2v1.2h-5.2zM1196.8 441.5h1.1v24.8h-1.1zM1201.9 467.4h5.2v2.8h-5.2zM1203.9 465.1h1.1v13.3h-1.1zM1209 472.3h5.2v5.7h-5.2zM1211 463.8h1.1v17.2h-1.1zM1230.3 465.9h5.2v16.8h-5.2zM1232.3 463.5h1.1v21h-1.1zM1251.6 472.1h5.2v17.4h-5.2zM1253.6 465.9h1.1v24.5h-1.1zM1258.7 490.2h5.2v1.3h-5.2zM1260.7 484.2h1.1v12.4h-1.1zM1280 448.2h5.2v3.1h-5.2zM1282 446.1h1.1v21.9h-1.1zM1287.1 452h5.2v2.7h-5.2zM1289.1 447h1.1v18.7h-1.1zM1294.2 456.6h5.2v1.4h-5.2zM1296.2 456.4h1.1v11.6h-1.1zM1308.4 443.3h5.2v10h-5.2zM1310.4 442.1h1.1v19h-1.1zM1315.5 454.3h5.2v21.6h-5.2zM1317.5 454.3h1.1v25.6h-1.1zM1329.7 456.6h5.2v12.3h-5.2zM1331.8 456.6h1.1v16h-1.1zM1336.8 470.7h5.2v11.4h-5.2zM1338.9 470.7h1.1v11.6h-1.1zM1343.9 482.6h5.2v15.1h-5.2zM1346 480.1h1.1v19.8h-1.1zM1351 498.1h5.2v1.4h-5.2zM1353.1 490.8h1.1v17.8h-1.1zM1407.8 436.3h5.2v6.6h-5.2zM1409.9 436.3h1.1v16.4h-1.1zM1422 433.9h5.2v11.7h-5.2zM1424.1 431.5h1.1v17.8h-1.1zM1429.1 447.3h5.2v18.3h-5.2zM1431.2 447.3h1.1v22.1h-1.1zM1450.4 432.6h5.2v13h-5.2zM1452.5 431.5h1.1v15.1h-1.1zM1464.6 440h5.2v9.9h-5.2zM1466.7 436h1.1v18h-1.1zM1478.8 436.6h5.2v16h-5.2zM1480.9 420.6h1.1v32.3h-1.1zM1485.9 453.1h5.2v15.4h-5.2zM1488 450.8h1.1v18.3h-1.1zM1514.4 459.4h5.2v18.3h-5.2zM1516.4 456.5h1.1v21.1h-1.1zM1521.5 478h5.2v11.1h-5.2zM1523.5 475.7h1.1v21h-1.1zM1528.6 491h5.2v13.7h-5.2zM1530.6 491h1.1v17.5h-1.1zM1535.7 505.1h5.2v21.3h-5.2zM1537.7 501.3h1.1v26h-1.1zM1542.8 526.2h5.2v13.1h-5.2zM1544.8 515.3h1.1v26.3h-1.1zM1557 527.3h5.2v14.8h-5.2zM1559 521.4h1.1v21.3h-1.1zM1571.2 536.2h5.2v12.2h-5.2zM1573.2 525h1.1v33.1h-1.1zM1613.8 499.9h5.2v9.1h-5.2zM1615.8 498.8h1.1v21.7h-1.1zM1635.1 491h5.2v1.5h-5.2zM1637.1 484.8h1.1v16.4h-1.1zM1642.2 493.1h5.2v5.5h-5.2zM1644.2 486.2h1.1v13.5h-1.1zM1677.7 461.3h5.2v24.7h-5.2zM1679.8 461.3h1.1v24.7h-1.1zM1727.4 403.6h5.2v1.3h-5.2zM1729.5 403.6h1.1v18h-1.1zM1762.9 365.7h5.2v15.7h-5.2zM1765 365.7h1.1v23h-1.1zM1777.1 382.6h5.2v2.5h-5.2zM1779.2 371.3h1.1v17h-1.1zM1798.4 341.9h5.2v19.6h-5.2zM1800.5 337.2h1.1v26.7h-1.1zM1805.5 362.2h5.2v5.1h-5.2zM1807.6 346.5h1.1v28.3h-1.1zM1812.6 368.2h5.2v1.2h-5.2zM1814.7 359.3h1.1v13h-1.1zM1819.7 370h5.2v4.6h-5.2zM1821.8 361.8h1.1v18.6h-1.1zM1833.9 359.5h5.2v1.8h-5.2zM1836 356.3h1.1v14.8h-1.1zM1841 362h5.2v12.8h-5.2zM1843.1 350.1h1.1v25.1h-1.1zM1848.1 375.3h5.2v9.8h-5.2zM1850.2 365.7h1.1v22.8h-1.1zM1855.3 385.8h5.2v7.5h-5.2zM1857.3 381h1.1v12.5h-1.1zM1876.6 369.3h5.2v1.4h-5.2zM1878.6 357h1.1v17.8h-1.1zM1883.7 371.6h5.2v5.9h-5.2zM1885.7 366.6h1.1v11.4h-1.1zM1890.8 377.7h5.2v7.4h-5.2zM1892.8 368.9h1.1v16.6h-1.1zM1905 382.1h5.2v17.3h-5.2zM1907 377.3h1.1v24.7h-1.1zM1912.1 401.3h5.2v9.6h-5.2zM1914.1 395h1.1v25.8h-1.1zM1926.3 391.3h5.2v13.6h-5.2zM1928.3 389.1h1.1v21h-1.1zM1933.4 406.8h5.2v7.7h-5.2zM1935.4 398.7h1.1v16.2h-1.1zM1940.5 415.3h5.2v1.5h-5.2zM1942.5 403.5h1.1v13.6h-1.1zM1968.9 397.3h5.2v1.2h-5.2zM1970.9 386.9h1.1v12.5h-1.1zM1976 398.7h5.2v4.1h-5.2zM1978 398h1.1v12.2h-1.1zM1983.1 403.4h5.2v15.3h-5.2zM1985.1 401.3h1.1v19.5h-1.1zM1990.2 417.5h5.2v1.2h-5.2zM1992.2 414.2h1.1v16.2h-1.1zM2011.5 415.8h5.2v1.2h-5.2zM2013.5 414.2h1.1v7.4h-1.1zM2018.6 416.8h5.2v4.4h-5.2zM2020.6 416.8h1.1v5.2h-1.1zM2054.1 399.8h5.2v8.9h-5.2zM2056.2 397.2h1.1v11.8h-1.1z"/>
<path fill="#0ecb81" d="M612.4 770.4h5.2v12.9h-5.2zM633.7 779h5.2v4.3h-5.2zM640.8 752.9h5.2v30.4h-5.2zM647.9 766.8h5.2v16.5h-5.2zM662.1 769.5h5.2v13.8h-5.2zM676.3 774.1h5.2v9.2h-5.2zM683.4 751.6h5.2v31.7h-5.2zM704.7 772.9h5.2v10.4h-5.2zM718.9 762.2h5.2v21.1h-5.2zM726 720h5.2v63.3h-5.2zM733.1 766.5h5.2v16.8h-5.2zM740.2 721h5.2v62.3h-5.2zM747.3 758.9h5.2v24.4h-5.2zM754.4 754.9h5.2v28.4h-5.2zM761.5 731.9h5.2v51.4h-5.2zM768.6 692.3h5.2v91h-5.2zM789.9 746h5.2v37.3h-5.2zM825.5 757.6h5.2v25.7h-5.2zM861 757.6h5.2v25.7h-5.2zM868.1 738.8h5.2v44.5h-5.2zM875.2 769.5h5.2v13.8h-5.2zM882.3 765h5.2v18.3h-5.2zM896.5 771.9h5.2v11.4h-5.2zM910.7 757.6h5.2v25.7h-5.2zM946.2 755.3h5.2v28h-5.2zM953.3 765h5.2v18.3h-5.2zM967.5 770.7h5.2v12.6h-5.2zM1010.1 771.4h5.2v11.9h-5.2zM1045.6 760.3h5.2v23h-5.2zM1052.7 771.9h5.2v11.4h-5.2zM1059.8 768.6h5.2v14.7h-5.2zM1109.5 768.3h5.2v15h-5.2zM1137.9 772.8h5.2v10.5h-5.2zM1166.4 765.3h5.2v18h-5.2zM1173.5 776.6h5.2v6.7h-5.2zM1180.6 768.3h5.2v15h-5.2zM1187.7 756.6h5.2v26.7h-5.2zM1216.1 776.6h5.2v6.7h-5.2zM1223.2 766.1h5.2v17.2h-5.2zM1237.4 773.6h5.2v9.7h-5.2zM1244.5 779h5.2v4.3h-5.2zM1265.8 774.5h5.2v8.8h-5.2zM1272.9 770.3h5.2v13h-5.2zM1301.3 772.8h5.2v10.5h-5.2zM1322.6 772.3h5.2v11h-5.2zM1358.1 767.3h5.2v16h-5.2zM1365.2 772.3h5.2v11h-5.2zM1372.3 775.3h5.2v8h-5.2zM1379.4 776.6h5.2v6.7h-5.2zM1386.5 775.3h5.2v8h-5.2zM1393.6 768.3h5.2v15h-5.2zM1400.7 775.6h5.2v7.7h-5.2zM1414.9 770.6h5.2v12.7h-5.2zM1436.2 773.6h5.2v9.7h-5.2zM1443.3 763.3h5.2v20h-5.2zM1457.5 774h5.2v9.3h-5.2zM1471.7 770.6h5.2v12.7h-5.2zM1493 771.9h5.2v11.4h-5.2zM1500.2 775.3h5.2v8h-5.2zM1507.3 779h5.2v4.3h-5.2zM1549.9 769.9h5.2v13.4h-5.2zM1564.1 769.9h5.2v13.4h-5.2zM1578.3 775.3h5.2v8h-5.2zM1585.4 777.8h5.2v5.5h-5.2zM1592.5 774.5h5.2v8.8h-5.2zM1599.6 771.6h5.2v11.7h-5.2zM1606.7 769.4h5.2v13.9h-5.2zM1620.9 767.3h5.2v16h-5.2zM1628 769.4h5.2v13.9h-5.2zM1649.3 768.3h5.2v15h-5.2zM1656.4 770.3h5.2v13h-5.2zM1663.5 772.8h5.2v10.5h-5.2zM1670.6 771.1h5.2v12.2h-5.2zM1684.8 769.4h5.2v13.9h-5.2zM1691.9 758.9h5.2v24.4h-5.2zM1699 770.6h5.2v12.7h-5.2zM1706.1 762.3h5.2v21h-5.2zM1713.2 761.1h5.2v22.2h-5.2zM1720.3 765.6h5.2v17.7h-5.2zM1734.5 768.3h5.2v15h-5.2zM1741.6 761.1h5.2v22.2h-5.2zM1748.7 763.3h5.2v20h-5.2zM1755.8 763.6h5.2v19.7h-5.2zM1770 767.3h5.2v16h-5.2zM1784.2 762.8h5.2v20.5h-5.2zM1791.3 743.6h5.2v39.7h-5.2zM1826.8 767.3h5.2v16h-5.2zM1862.4 773.6h5.2v9.7h-5.2zM1869.5 776.6h5.2v6.7h-5.2zM1897.9 767.2h5.2v16.1h-5.2zM1919.2 771.8h5.2v11.5h-5.2zM1947.6 777.9h5.2v5.4h-5.2zM1954.7 780h5.2v3.3h-5.2zM1961.8 769.4h5.2v13.9h-5.2zM1997.3 770.5h5.2v12.8h-5.2zM2004.4 780h5.2v3.3h-5.2zM2025.7 770.5h5.2v12.8h-5.2zM2032.8 777h5.2v6.3h-5.2zM2039.9 775.9h5.2v7.4h-5.2zM2047 775.9h5.2v7.4h-5.2zM2061.2 777.5h5.2v5.8h-5.2z"/>
<path fill="#f6465d" d="M619.5 773.4h5.2v9.9h-5.2zM626.6 773.7h5.2v9.6h-5.2zM655 772.9h5.2v10.4h-5.2zM669.2 772.9h5.2v10.4h-5.2zM690.5 758.9h5.2v24.4h-5.2zM697.6 776.4h5.2v6.9h-5.2zM711.8 751.6h5.2v31.7h-5.2zM775.7 701.2h5.2v82.1h-5.2zM782.8 760.1h5.2v23.2h-5.2zM797.1 755.3h5.2v28h-5.2zM804.2 758.9h5.2v24.4h-5.2zM811.3 762.2h5.2v21.1h-5.2zM818.4 769.5h5.2v13.8h-5.2zM832.6 756.3h5.2v27h-5.2zM839.7 734.1h5.2v49.2h-5.2zM846.8 744.2h5.2v39.1h-5.2zM853.9 768.2h5.2v15.1h-5.2zM889.4 773.1h5.2v10.2h-5.2zM903.6 752.3h5.2v31h-5.2zM917.8 774.1h5.2v9.2h-5.2zM924.9 767.2h5.2v16.1h-5.2zM932 771.9h5.2v11.4h-5.2zM939.1 769.2h5.2v14.1h-5.2zM960.4 773.1h5.2v10.2h-5.2zM974.6 776.4h5.2v6.9h-5.2zM981.7 770.1h5.2v13.2h-5.2zM988.8 770.1h5.2v13.2h-5.2zM995.9 771.9h5.2v11.4h-5.2zM1003 766.2h5.2v17.1h-5.2zM1017.2 770.9h5.2v12.4h-5.2zM1024.3 772.4h5.2v10.9h-5.2zM1031.4 775.4h5.2v7.9h-5.2zM1038.5 767.3h5.2v16h-5.2zM1066.9 770.6h5.2v12.7h-5.2zM1074 777.8h5.2v5.5h-5.2zM1081.1 771.6h5.2v11.7h-5.2zM1088.2 772.3h5.2v11h-5.2zM1095.3 773.6h5.2v9.7h-5.2zM1102.4 769.4h5.2v13.9h-5.2zM1116.6 769.4h5.2v13.9h-5.2zM1123.7 724.4h5.2v58.9h-5.2zM1130.8 750.6h5.2v32.7h-5.2zM1145.1 763.6h5.2v19.7h-5.2zM1152.2 756.6h5.2v26.7h-5.2zM1159.3 753.9h5.2v29.4h-5.2zM1194.8 769.4h5.2v13.9h-5.2zM1201.9 771.9h5.2v11.4h-5.2zM1209 774.5h5.2v8.8h-5.2zM1230.3 775.3h5.2v8h-5.2zM1251.6 771.1h5.2v12.2h-5.2zM1258.7 773.6h5.2v9.7h-5.2zM1280 772.8h5.2v10.5h-5.2zM1287.1 773.6h5.2v9.7h-5.2zM1294.2 777.8h5.2v5.5h-5.2zM1308.4 772.8h5.2v10.5h-5.2zM1315.5 768.3h5.2v15h-5.2zM1329.7 775.3h5.2v8h-5.2zM1336.8 773.3h5.2v10h-5.2zM1343.9 764.9h5.2v18.4h-5.2zM1351 773.3h5.2v10h-5.2zM1407.8 775.3h5.2v8h-5.2zM1422 773.6h5.2v9.7h-5.2zM1429.1 770.6h5.2v12.7h-5.2zM1450.4 769.4h5.2v13.9h-5.2zM1464.6 767.3h5.2v16h-5.2zM1478.8 764.9h5.2v18.4h-5.2zM1485.9 770.6h5.2v12.7h-5.2zM1514.4 774h5.2v9.3h-5.2zM1521.5 767.3h5.2v16h-5.2zM1528.6 756.6h5.2v26.7h-5.2zM1535.7 763.6h5.2v19.7h-5.2zM1542.8 768.3h5.2v15h-5.2zM1557 771.9h5.2v11.4h-5.2zM1571.2 771.9h5.2v11.4h-5.2zM1613.8 776.6h5.2v6.7h-5.2zM1635.1 773.6h5.2v9.7h-5.2zM1642.2 776.6h5.2v6.7h-5.2zM1677.7 772.8h5.2v10.5h-5.2zM1727.4 743.6h5.2v39.7h-5.2zM1762.9 743.6h5.2v39.7h-5.2zM1777.1 767.3h5.2v16h-5.2zM1798.4 773.3h5.2v10h-5.2zM1805.5 764.9h5.2v18.4h-5.2zM1812.6 774.5h5.2v8.8h-5.2zM1819.7 768.3h5.2v15h-5.2zM1833.9 775.3h5.2v8h-5.2zM1841 771.9h5.2v11.4h-5.2zM1848.1 771.6h5.2v11.7h-5.2zM1855.3 776.6h5.2v6.7h-5.2zM1876.6 776.6h5.2v6.7h-5.2zM1883.7 778.1h5.2v5.2h-5.2zM1890.8 769.4h5.2v13.9h-5.2zM1905 761.2h5.2v22.1h-5.2zM1912.1 764.8h5.2v18.5h-5.2zM1926.3 776.5h5.2v6.8h-5.2zM1933.4 767.2h5.2v16.1h-5.2zM1940.5 775.4h5.2v7.9h-5.2zM1968.9 775.9h5.2v7.4h-5.2zM1976 774h5.2v9.3h-5.2zM1983.1 774h5.2v9.3h-5.2zM1990.2 771.6h5.2v11.7h-5.2zM2011.5 781.3h5.2v2h-5.2zM2018.6 782.2h5.2v1.1h-5.2zM2054.1 777.5h5.2v5.8h-5.2z"/>
<polyline points="615.1,601.8 636.4,604.6 650.6,606.3 664.8,607.5 679,608.3 693.3,606.9 713.1,604.6 721.7,602.6 735.9,597 757.2,587 771.4,575.6 792.7,561.4 806.9,552.9 821.1,544.4 835.3,536.4 849.5,528.8 863.8,523.1 878,516 892.2,508.9 906.4,500.3 920.6,491.8 934.8,484.7 949,476.8 963.2,469.1 977.4,460.6 991.6,452 1005.8,442.1 1020,435.8 1034.3,429.3 1048.5,422.2 1062.7,415.1 1076.9,408 1091.1,403.7 1105.3,399.5 1119.5,396.6 1133.7,393.8 1147.9,393.2 1162.1,395.2 1176.3,397.2 1190.6,400.9 1204.8,406.6 1219,410.8 1233.2,415.1 1247.4,417.9 1261.6,422.2 1275.8,425 1290,426.5 1304.2,427.9 1318.4,431.3 1338,437.8 1352.2,440.7 1366.4,443.5 1380.6,447.2 1394.8,449.2 1409,451.5 1423.3,453.5 1437.5,454.9 1451.7,456.3 1465.9,457.1 1480.1,459.1 1494.3,462 1508.5,464.3 1522.7,466.2 1536.9,469.1 1551.1,471.4 1565.3,473.9 1579.5,475.6 1593.8,476.2 1608,476.8 1622.2,478.2 1636.4,478.5 1650.6,478.5 1664.8,478.5 1679,478.5 1693.2,478.2 1707.4,477.3 1721.6,475.6 1735.8,473.9 1750,471.4 1764.3,468.2 1778.5,464.8 1792.7,459.7 1806.9,455.7 1821.1,453.5 1835.3,451.2 1849.5,448.3 1863.7,446.3 1877.9,444.1 1892.1,441.5 1906.3,439.2 1920.6,437.8 1934.8,435 1949,432.1 1963.2,429.3 1977.4,425 1991.6,422.2 2005.8,418.8 2020,415.1 2034.2,412.2 2048.4,409.4 2062.6,405.7" fill="none" stroke="#E11D74" stroke-width="1.3" stroke-linejoin="round"/>
<polyline points="615.1,616 636.4,614 664.8,608.3 693.3,599.8 721.7,587 750.1,565.7 764.3,550.1 778.5,527.3 792.7,504.6 806.9,484.7 821.1,469.1 835.3,450.6 849.5,439.2 863.8,429.3 878,419.4 892.2,409.4 906.4,398 920.6,385.3 934.8,376.7 949,371 963.2,368.2 974.6,366.8 980.3,369.6 991.6,372.5 1005.8,378.1 1020,381 1034.3,383.8 1048.5,385.3 1062.7,385.3 1076.9,384.7 1091.1,386.7 1105.3,390.9 1119.5,396.6 1133.7,403.7 1147.9,409.4 1162.1,416.5 1176.3,427.9 1190.6,436.4 1204.8,442.1 1219,447.2 1233.2,452 1247.4,456.9 1261.6,461.4 1275.8,464.8 1290,467.7 1304.2,469.7 1318.4,471.4 1338,474.8 1352.2,476.8 1366.4,476.8 1380.6,473.3 1394.8,470.5 1409,469.1 1423.3,467.1 1437.5,464.8 1451.7,462.5 1465.9,460.6 1480.1,458.6 1494.3,459.1 1508.5,460.6 1522.7,462.5 1536.9,465.4 1551.1,469.1 1565.3,471.9 1579.5,474.8 1593.8,478.5 1608,482.4 1622.2,486.1 1636.4,489.8 1650.6,492.7 1664.8,494.7 1679,496.1 1693.2,496.9 1701.7,496.6 1715.9,494.7 1735.8,487.6 1750,477.6 1764.3,464.8 1778.5,453.5 1792.7,440.7 1806.9,427.9 1821.1,417.9 1835.3,410.8 1849.5,403.7 1863.7,396.6 1877.9,389.5 1892.1,385.3 1906.3,382.4 1920.6,380.4 1934.8,380.1 1949,381 1963.2,383 1977.4,385.3 1991.6,388.1 2005.8,391.8 2020,395.2 2034.2,398 2048.4,400.9 2062.6,402.3" fill="none" stroke="#2196F3" stroke-width="1.3" stroke-linejoin="round"/>
<polyline points="615,635.7 622.1,632.4 629.2,629.4 636.3,625.1 643.4,615.8 650.5,605.7 657.6,598.3 664.7,589.5 671.8,582.3 678.9,573.6 686,564 693.1,554.4 700.2,544.7 707.3,535.1 714.4,531.2 721.5,525.5 728.6,515 735.7,505.9 742.8,494.1 749.9,482.9 757,472.5 764.1,456.1 771.2,430.1 778.3,414 785.4,397.2 792.5,380.5 799.7,370.8 806.8,361.7 813.9,355.1 821,350.3 828.1,345.2 835.2,346.2 842.3,359.6 849.4,365.4 856.5,371.6 863.6,379.2 870.7,382.6 877.8,385.3 884.9,383.6 892,382.3 899.1,383 906.2,382.9 913.3,377.7 920.4,373.1 927.5,368.6 934.6,366.7 941.7,367.9 948.8,367.3 955.9,367.8 963,368.2 970.1,368.7 977.2,369.9 984.3,374.4 991.4,378 998.5,381.3 1005.6,384.2 1012.7,384.2 1019.8,386.7 1026.9,391.8 1034,395.8 1041.1,401.6 1048.2,404.3 1055.3,405.1 1062.4,403.7 1069.5,403.2 1076.6,402 1083.7,402.5 1090.8,404.5 1097.9,406.3 1105,409 1112.1,410.2 1119.2,414.5 1126.3,420.3 1133.4,428.9 1140.5,435.3 1147.7,443.7 1154.8,452.9 1161.9,462.4 1169,470.5 1176.1,476.9 1183.2,482.7 1190.3,484.4 1197.4,485.3 1204.5,485.5 1211.6,487.3 1218.7,486.8 1225.8,483.9 1232.9,480.7 1240,477.8 1247.1,474.8 1254.2,474.7 1261.3,477.3 1268.4,476.8 1275.5,474.6 1282.6,471.9 1289.7,469.8 1296.8,469 1303.9,465.1 1311,462.4 1318.1,462.7 1325.2,459.4 1332.3,457.1 1339.4,459.2 1346.5,464.2 1353.6,469 1360.7,473.3 1367.8,476.2 1374.9,478.9 1382,480 1389.1,477.4 1396.2,475.9 1403.3,472.7 1410.4,468.7 1417.5,462.4 1424.6,457 1431.7,453.7 1438.8,450 1445.9,446.2 1453,444.3 1460.1,443.3 1467.2,444.2 1474.3,444.2 1481.4,445.2 1488.5,448.6 1495.6,451 1502.8,451.3 1509.9,452.4 1517,456.9 1524.1,461.3 1531.2,467.8 1538.3,475.4 1545.4,485.7 1552.5,493.1 1559.6,500.4 1566.7,507.1 1573.8,515.1 1580.9,522.7 1588,527 1595.1,529 1602.2,528.9 1609.3,526.4 1616.4,523.3 1623.5,519.9 1630.6,514.7 1637.7,510.4 1644.8,505.4 1651.9,500.1 1659,495.6 1666.1,491.7 1673.2,487.6 1680.3,486.1 1687.4,482.3 1694.5,478.4 1701.6,473.5 1708.7,466.9 1715.8,458.2 1722.9,450.1 1730,443 1737.1,434.7 1744.2,425.7 1751.3,414.1 1758.4,403.6 1765.5,396.4 1772.6,390.4 1779.7,386.3 1786.8,381.8 1793.9,375.7 1801,371.4 1808.1,369.4 1815.2,369.1 1822.3,369.5 1829.4,368.9 1836.5,366.9 1843.6,366.2 1850.7,366.2 1857.9,369 1865,373.1 1872.1,373.7 1879.2,374.1 1886.3,374.9 1893.4,375.9 1900.5,378.1 1907.6,381.9 1914.7,385.5 1921.8,386.2 1928.9,387.4 1936,390.4 1943.1,395.3 1950.2,399.1 1957.3,402.3 1964.4,403.6 1971.5,405.3 1978.6,405.6 1985.7,406.4 1992.8,409.1 1999.9,410.3 2007,410.4 2014.1,410.4 2021.2,411.6 2028.3,412.1 2035.4,413.5 2042.5,414.8 2049.6,414.5 2056.7,413.5 2063.8,411.3" fill="none" stroke="#9D65C9" stroke-width="1.3" stroke-linejoin="round"/>
<polyline points="615,621.6 622.1,619.6 629.2,618.3 636.3,614.4 643.4,600.5 650.5,589.7 657.6,577.1 664.7,560.7 671.8,550.2 678.9,546.7 686,538.3 693.1,531.8 700.2,528.8 707.3,519.9 714.4,515.7 721.5,512.6 728.6,498.2 735.7,483 742.8,468.2 749.9,450.1 757,432.3 764.1,413.9 771.2,377.3 778.3,359.7 785.4,344.3 792.5,328.7 799.7,327.7 806.8,346.1 813.9,350.5 821,356.3 828.1,361.8 835.2,364.7 842.3,373.1 849.4,380.4 856.5,386.9 863.6,396.7 870.7,400.4 877.8,397.5 884.9,386.9 892,377.7 899.1,369.4 906.2,365.4 913.3,358 920.4,359.4 927.5,359.5 934.6,364 941.7,370.5 948.8,376.6 955.9,376.1 963,376.8 970.1,373.3 977.2,369.4 984.3,372.2 991.4,379.8 998.5,385.8 1005.6,395.1 1012.7,399 1019.8,401.2 1026.9,403.9 1034,405.7 1041.1,408.1 1048.2,409.6 1055.3,409.1 1062.4,403.6 1069.5,400.6 1076.6,395.8 1083.7,395.5 1090.8,399.9 1097.9,409 1105,417.5 1112.1,424.6 1119.2,433.5 1126.3,440.8 1133.4,448.8 1140.5,453.2 1147.7,462.8 1154.8,472.3 1161.9,483.9 1169,492.1 1176.1,500.5 1183.2,502.5 1190.3,496.5 1197.4,486.7 1204.5,479 1211.6,474.1 1218.7,471.1 1225.8,471.3 1232.9,474.6 1240,476.7 1247.1,475.5 1254.2,478.2 1261.3,483.3 1268.4,479 1275.5,472.5 1282.6,468.3 1289.7,461.4 1296.8,454.7 1303.9,451.2 1311,452.2 1318.1,457.1 1325.2,457.4 1332.3,459.6 1339.4,467.3 1346.5,476.2 1353.6,480.9 1360.7,489.3 1367.8,492.7 1374.9,490.5 1382,483.9 1389.1,474 1396.2,462.5 1403.3,452.6 1410.4,447 1417.5,440.8 1424.6,440 1431.7,444.9 1438.8,447.5 1445.9,445.4 1453,447.8 1460.1,446.6 1467.2,443.5 1474.3,440.9 1481.4,444.9 1488.5,449.5 1495.6,455.4 1502.8,459.2 1509.9,464 1517,469 1524.1,473.1 1531.2,480.1 1538.3,491.7 1545.4,507.4 1552.5,517.1 1559.6,527.8 1566.7,534.1 1573.8,538.5 1580.9,538 1588,536.8 1595.1,530.3 1602.2,523.7 1609.3,514.3 1616.4,508.7 1623.5,503 1630.6,499.2 1637.7,497.1 1644.8,496.5 1651.9,491.5 1659,488.3 1666.1,484.2 1673.2,478.2 1680.3,475.7 1687.4,473 1694.5,468.5 1701.6,462.9 1708.7,455.5 1715.8,440.6 1722.9,427.1 1730,417.5 1737.1,406.5 1744.2,395.9 1751.3,387.6 1758.4,380 1765.5,375.3 1772.6,374.3 1779.7,376.8 1786.8,375.9 1793.9,371.4 1801,367.5 1808.1,364.5 1815.2,361.4 1822.3,363.2 1829.4,366.4 1836.5,366.4 1843.6,367.9 1850.7,371 1857.9,374.8 1865,379.7 1872.1,381.1 1879.2,380.3 1886.3,378.8 1893.4,377.1 1900.5,376.5 1907.6,382.8 1914.7,390.8 1921.8,393.6 1928.9,397.6 1936,404.3 1943.1,407.8 1950.2,407.5 1957.3,411 1964.4,409.5 1971.5,406.2 1978.6,403.4 1985.7,405.3 1992.8,407.2 1999.9,411.2 2007,414.6 2014.1,417.4 2021.2,417.9 2028.3,416.9 2035.4,415.8 2042.5,415 2049.6,411.6 2056.7,409.1 2063.8,405.7" fill="none" stroke="#FF9600" stroke-width="1.3" stroke-linejoin="round"/>
<polyline points="615,770.4 622.1,770.6 629.2,770.8 636.3,771.2 643.4,770.3 650.5,770.1 657.6,770.2 664.7,770.2 671.8,770.3 678.9,770.5 686,769.6 693.1,769 700.2,769.3 707.3,769.4 714.4,768.5 721.5,768.1 728.6,765.5 735.7,765.3 742.8,762.9 749.9,762.3 757,761.5 764.1,759.4 771.2,755.4 778.3,751.5 785.4,751.8 792.5,750.8 799.7,749.9 806.8,749.4 813.9,748.8 821,748.6 828.1,748.9 835.2,748.8 842.3,746.7 849.4,745.2 856.5,746.1 863.6,745.8 870.7,746.8 877.8,746.9 884.9,749.1 892,749.8 899.1,750.7 906.2,751.7 913.3,755 920.4,758.6 927.5,759 934.6,760.3 941.7,761 948.8,760.8 955.9,760.9 963,761.1 970.1,761.8 977.2,762.8 984.3,764.6 991.4,765.9 998.5,766 1005.6,766.5 1012.7,768.1 1019.8,768.2 1026.9,768.6 1034,768.7 1041.1,768.4 1048.2,768.8 1055.3,769.5 1062.4,769.3 1069.5,769.4 1076.6,769.7 1083.7,769.9 1090.8,770.7 1097.9,771.1 1105,771 1112.1,770.8 1119.2,770.5 1126.3,768.2 1133.4,767.2 1140.5,767.3 1147.7,767.1 1154.8,766.4 1161.9,765.5 1169,765.2 1176.1,765.2 1183.2,765.3 1190.3,765.1 1197.4,765 1204.5,765.2 1211.6,765.3 1218.7,765.3 1225.8,765 1232.9,765.2 1240,765.2 1247.1,765.6 1254.2,765.8 1261.3,766 1268.4,768.5 1275.5,769.5 1282.6,769.5 1289.7,770 1296.8,771 1303.9,772 1311,772.4 1318.1,771.9 1325.2,772.1 1332.3,773.1 1339.4,773.3 1346.5,772.9 1353.6,772.9 1360.7,772.4 1367.8,772.7 1374.9,772.7 1382,772.9 1389.1,772.7 1396.2,772.5 1403.3,772.6 1410.4,772.7 1417.5,772.7 1424.6,772.7 1431.7,772.6 1438.8,772.4 1445.9,771.9 1453,771.7 1460.1,772 1467.2,771.8 1474.3,771.5 1481.4,771.1 1488.5,771.4 1495.6,771.3 1502.8,771.7 1509.9,772.1 1517,772 1524.1,771.5 1531.2,770.6 1538.3,770.4 1545.4,770 1552.5,769.7 1559.6,769.8 1566.7,769.6 1573.8,769.7 1580.9,769.8 1588,770.5 1595.1,770.7 1602.2,770.6 1609.3,770.7 1616.4,771 1623.5,771.1 1630.6,771.1 1637.7,771.2 1644.8,771.2 1651.9,770.7 1659,770.5 1666.1,770.8 1673.2,771.5 1680.3,772 1687.4,772 1694.5,771.5 1701.6,771.4 1708.7,771 1715.8,770.5 1722.9,770 1730,768.3 1737.1,768 1744.2,767.5 1751.3,767.1 1758.4,766.5 1765.5,765.3 1772.6,765.2 1779.7,764.9 1786.8,764.2 1793.9,763 1801,763.1 1808.1,762.7 1815.2,762.9 1822.3,762.7 1829.4,762.6 1836.5,763.4 1843.6,763.4 1850.7,763.9 1857.9,764.7 1865,765.1 1872.1,766.7 1879.2,767.1 1886.3,768 1893.4,768.3 1900.5,768.5 1907.6,769.4 1914.7,769.2 1921.8,769.5 1928.9,770.2 1936,771.3 1943.1,771.4 1950.2,772.1 1957.3,772.4 1964.4,772.4 1971.5,772.9 1978.6,772.8 1985.7,772.9 1992.8,772.9 1999.9,772.6 2007,772.9 2014.1,773.1 2021.2,773.4 2028.3,773 2035.4,773.4 2042.5,773.8 2049.6,774.6 2056.7,775.2 2063.8,775.5" fill="none" stroke="#2196F3" stroke-width="1.15" stroke-linejoin="round"/>
<polyline points="615,770.4 622.1,770.7 629.2,771.1 636.3,771.9 643.4,770.2 650.5,769.8 657.6,770.1 664.7,770 671.8,770.2 678.9,770.6 686,768.7 693.1,767.2 700.2,767.5 707.3,766.9 714.4,766.8 721.5,766.3 728.6,761 735.7,760.7 742.8,755.5 749.9,754 757,754.3 764.1,751.6 771.2,743.2 778.3,736 785.4,736.9 792.5,735.3 799.7,738.8 806.8,738 813.9,742.2 821,743.2 828.1,743.5 835.2,745.9 842.3,750.1 849.4,754.4 856.5,755.2 863.6,756.4 870.7,754.7 877.8,755.8 884.9,756.1 892,756.4 899.1,757.9 906.2,757.5 913.3,759.8 920.4,762.8 927.5,762.7 934.6,764.1 941.7,767.2 948.8,765.8 955.9,765.8 963,765.8 970.1,765.6 977.2,768 984.3,769.3 991.4,768.9 998.5,769.4 1005.6,768.8 1012.7,769 1019.8,770.6 1026.9,771.3 1034,771.6 1041.1,771.2 1048.2,769.6 1055.3,769.8 1062.4,769.6 1069.5,769.5 1076.6,770.7 1083.7,770.7 1090.8,770.8 1097.9,770.9 1105,770.3 1112.1,770.4 1119.2,771.4 1126.3,766.6 1133.4,764.8 1140.5,765 1147.7,763.6 1154.8,762.1 1161.9,760.3 1169,759.4 1176.1,760.1 1183.2,760.1 1190.3,758.9 1197.4,763.4 1204.5,765.5 1211.6,765.7 1218.7,767 1225.8,767.9 1232.9,770.1 1240,770.9 1247.1,771.1 1254.2,771.4 1261.3,773.1 1268.4,773.6 1275.5,773.5 1282.6,773.3 1289.7,773 1296.8,774.2 1303.9,773.9 1311,773.8 1318.1,772.8 1325.2,772.9 1332.3,773 1339.4,772.9 1346.5,772.4 1353.6,772.4 1360.7,771.8 1367.8,771.2 1374.9,771.5 1382,771.9 1389.1,772.6 1396.2,772.2 1403.3,772.2 1410.4,772.4 1417.5,773 1424.6,773 1431.7,773.4 1438.8,773.5 1445.9,772.3 1453,771.6 1460.1,771.4 1467.2,771.3 1474.3,770.8 1481.4,769.8 1488.5,769.8 1495.6,769.6 1502.8,770.1 1509.9,770.6 1517,771.7 1524.1,771.5 1531.2,769.7 1538.3,769.4 1545.4,769.1 1552.5,769.6 1559.6,769.8 1566.7,769.6 1573.8,769.2 1580.9,768.9 1588,769.3 1595.1,770 1602.2,771.5 1609.3,772.1 1616.4,772.9 1623.5,772.6 1630.6,772.4 1637.7,772.8 1644.8,773.2 1651.9,772.5 1659,771.8 1666.1,771.6 1673.2,771.5 1680.3,771.9 1687.4,771.2 1694.5,770.3 1701.6,770.4 1708.7,769.3 1715.8,767.8 1722.9,767.5 1730,764.8 1737.1,764.4 1744.2,763.4 1751.3,762.4 1758.4,761.8 1765.5,760.3 1772.6,760 1779.7,760.5 1786.8,760.6 1793.9,758.4 1801,761.4 1808.1,761.1 1815.2,762.4 1822.3,762.9 1829.4,763.3 1836.5,766.4 1843.6,766.9 1850.7,767.3 1857.9,768.7 1865,771.7 1872.1,772.1 1879.2,773.2 1886.3,773.6 1893.4,773.7 1900.5,773.7 1907.6,772.3 1914.7,771.6 1921.8,771.6 1928.9,771.6 1936,770.9 1943.1,770.8 1950.2,770.9 1957.3,771.1 1964.4,771.1 1971.5,772 1978.6,773.3 1985.7,774.2 1992.8,774.2 1999.9,773.6 2007,774.9 2014.1,775.5 2021.2,775.9 2028.3,774.9 2035.4,775.7 2042.5,775.7 2049.6,775.9 2056.7,776.2 2063.8,776.8" fill="none" stroke="#9D65C9" stroke-width="1.15" stroke-linejoin="round"/>
<polyline points="615,770.4 622.1,771 629.2,771.7 636.3,773.4 643.4,769.9 650.5,769.2 657.6,769.1 664.7,768.2 671.8,767 678.9,771.2 686,768.2 693.1,765.4 700.2,766.8 707.3,766.8 714.4,762.3 721.5,764.4 728.6,756.6 735.7,754.7 742.8,744.3 749.9,745.7 757,744.2 764.1,746.6 771.2,731.8 778.3,727.8 785.4,728.1 792.5,726.3 799.7,731 806.8,744.3 813.9,756.5 821,758.4 828.1,760.7 835.2,760.9 842.3,755.9 849.4,752.3 856.5,752.1 863.6,752.1 870.7,748.6 877.8,755.6 884.9,759.8 892,760.8 899.1,763.7 906.2,766.4 913.3,764 920.4,765.8 927.5,764.6 934.6,764.6 941.7,768 948.8,767.5 955.9,765.7 963,766.9 970.1,766.7 977.2,768.1 984.3,771.1 991.4,772.1 998.5,771.9 1005.6,771 1012.7,770 1019.8,770.1 1026.9,770.6 1034,771.3 1041.1,771.5 1048.2,769.3 1055.3,769.5 1062.4,768.7 1069.5,767.7 1076.6,769.8 1083.7,772.1 1090.8,772.2 1097.9,773.2 1105,773 1112.1,771 1119.2,770.6 1126.3,761 1133.4,756.4 1140.5,757.1 1147.7,756.2 1154.8,753.6 1161.9,759.5 1169,762.4 1176.1,763.2 1183.2,764.1 1190.3,764.1 1197.4,767.2 1204.5,768.6 1211.6,768.1 1218.7,769.8 1225.8,771.7 1232.9,772.9 1240,773.2 1247.1,774.1 1254.2,773 1261.3,774.5 1268.4,774.4 1275.5,773.7 1282.6,772.4 1289.7,773 1296.8,773.8 1303.9,773.5 1311,774 1318.1,773.1 1325.2,772.8 1332.3,772.3 1339.4,772.4 1346.5,770.8 1353.6,771.8 1360.7,770.8 1367.8,770.2 1374.9,770.6 1382,773 1389.1,773.4 1396.2,773.6 1403.3,774.2 1410.4,774.2 1417.5,773 1424.6,772.7 1431.7,773.2 1438.8,772.8 1445.9,770.3 1453,770.1 1460.1,770.2 1467.2,769.5 1474.3,768.9 1481.4,769.2 1488.5,769.5 1495.6,769.1 1502.8,770.7 1509.9,772.3 1517,774.2 1524.1,773.5 1531.2,770.4 1538.3,768.1 1545.4,765.9 1552.5,765.1 1559.6,766.1 1566.7,768.7 1573.8,770.4 1580.9,771.8 1588,773.4 1595.1,773.9 1602.2,774.2 1609.3,773.7 1616.4,774 1623.5,771.9 1630.6,770.9 1637.7,771.3 1644.8,772.7 1651.9,771 1659,771.6 1666.1,772.3 1673.2,771.8 1680.3,771 1687.4,771.3 1694.5,769 1701.6,768.6 1708.7,766.8 1715.8,764.5 1722.9,763.7 1730,760.6 1737.1,760.2 1744.2,759.9 1751.3,760.4 1758.4,760 1765.5,760 1772.6,759.8 1779.7,761 1786.8,760.9 1793.9,756.9 1801,762.8 1808.1,762.4 1815.2,763.8 1822.3,764.9 1829.4,769.6 1836.5,770 1843.6,771.4 1850.7,770.9 1857.9,772.6 1865,773.8 1872.1,774.1 1879.2,775 1886.3,776.3 1893.4,774.9 1900.5,773.6 1907.6,770.5 1914.7,768.1 1921.8,766.9 1928.9,768.3 1936,768.3 1943.1,771.1 1950.2,773.7 1957.3,775.4 1964.4,774 1971.5,775.7 1978.6,775.4 1985.7,774.6 1992.8,773 1999.9,773.2 2007,774 2014.1,775.5 2021.2,777.1 2028.3,776.9 2035.4,778.2 2042.5,777.4 2049.6,776.3 2056.7,775.4 2063.8,776.8" fill="none" stroke="#FF9600" stroke-width="1.15" stroke-linejoin="round"/>
<line x1="612" y1="397.1" x2="2069.5" y2="397.1" stroke="#0ecb81" stroke-width="1.3" stroke-dasharray="5,4"/>
<text x="2078" y="197.3" class="ax">23600.00</text>
<text x="2078" y="248.5" class="ax">23400.00</text>
<text x="2078" y="299.7" class="ax">23200.00</text>
<text x="2078" y="350.9" class="ax">23000.00</text>
<text x="2078" y="402.1" class="ax">22800.00</text>
<text x="2078" y="453.2" class="ax">22600.00</text>
<text x="2078" y="504.4" class="ax">22400.00</text>
<text x="2078" y="555.6" class="ax">22200.00</text>
<text x="2078" y="606.8" class="ax">22000.00</text>
<text x="2078" y="658" class="ax">21800.00</text>
<text x="2078" y="694.9" class="ax">5.6M</text>
<text x="2078" y="735.3" class="ax">3.2M</text>
<text x="2078" y="774.3" class="ax">800K</text>
<rect x="2069.7" y="387.3" width="66" height="19" rx="2" fill="#0ecb81"/>
<text x="2072" y="402.4" class="ax" fill="#fff" style="fill:#fff">22806.45</text>
<text x="792.5" y="812" class="ax" text-anchor="middle">13:25</text>
<text x="1005.6" y="812" class="ax" text-anchor="middle">13:55</text>
<text x="1218.7" y="812" class="ax" text-anchor="middle">14:25</text>
<text x="1431.7" y="812" class="ax" text-anchor="middle">14:55</text>
<text x="1644.8" y="812" class="ax" text-anchor="middle">15:25</text>
<text x="1857.9" y="812" class="ax" text-anchor="middle">15:55</text>
<path d="M778.3 249v-5h7" fill="none" stroke="#76808F" stroke-width="1"/>
<path d="M776.3 247l2 2.5l2-2.5" fill="none" stroke="#76808F" stroke-width="1"/>
<text x="790" y="248" class="mk">23362.55</text>
<path d="M629.2 625v5h7" fill="none" stroke="#76808F" stroke-width="1"/>
<path d="M627.2 627.5l2-2.5l2 2.5" fill="none" stroke="#76808F" stroke-width="1"/>
<text x="640.5" y="634" class="mk">21921.24</text>
<text y="197" class="tt"><tspan x="617">Time:2022-06-14 16:24</tspan><tspan x="795">S:22754.86</tspan><tspan x="889">Collect:22806.45</tspan><tspan x="1023">High:22806.45</tspan><tspan x="1142">Low:22742.33</tspan><tspan x="1244.5">Finished:357.08K</tspan></text>
<text y="217.5" class="tt"><tspan x="621">MA(5,10,30,60)</tspan><tspan x="741.3" fill="#FF9600">MA5: 22771.00</tspan><tspan x="862.4" fill="#9D65C9">MA10: 22749.41</tspan><tspan x="992" fill="#2196F3">MA30: 22784.19</tspan><tspan x="1120.2" fill="#E11D74">MA60: 22775.98</tspan></text>
<text y="692.5" class="tt"><tspan x="621">VOL(5,10,20)</tspan><tspan x="726" fill="#FF9600">MA5: 405.291K</tspan><tspan x="847" fill="#9D65C9">MA10: 420.197K</tspan><tspan x="976" fill="#2196F3">MA20: 513.218K</tspan><tspan x="1105" fill="#0ecb81">VOLUME: 357.08K</tspan></text></svg>
<div class="box" style="left:2167px;top:65px;width:833px;height:805px;background:#fff"></div>
<div class="t" style="left:2185.0px;top:75.4px;font-size:16.5px;line-height:16.5px;color:#6b778c;font-weight:bold;">BTC/USDT</div>
<div class="t" style="left:2185.0px;top:102.3px;font-size:16.2px;line-height:16.2px;color:#6b778c;font-weight:bold;"><span class="c">合</span><span class="c">约</span><span class="c">建</span><span class="c">仓</span></div>
<div class="box" style="left:2167px;top:124.8px;width:833px;height:1.6px;background:#f1f1f1"></div>
<div class="t" style="left:2196.6px;top:143.6px;font-size:16.4px;line-height:16.4px;color:#333;"><span class="c">选</span><span class="c">择</span><span class="c">周</span><span class="c">期</span></div>
<div class="box" style="left:2190.8px;top:198.2px;width:118px;height:94px;border-radius:12px;background:#f4f4f4"></div>
<div class="t" style="left:1949.8px;width:600px;text-align:center;top:215.7px;font-size:15.5px;line-height:15.5px;color:#333;">60S</div>
<div class="t" style="left:1949.8px;width:600px;text-align:center;top:245.7px;font-size:15.5px;line-height:15.5px;color:#333;">90%</div>
<div class="box" style="left:2320.9px;top:198.2px;width:118px;height:94px;border-radius:12px;background:#f4f4f4"></div>
<div class="t" style="left:2079.9px;width:600px;text-align:center;top:215.7px;font-size:15.5px;line-height:15.5px;color:#333;">300S</div>
<div class="t" style="left:2079.9px;width:600px;text-align:center;top:245.7px;font-size:15.5px;line-height:15.5px;color:#333;">85%</div>
<div class="box" style="left:2451.0px;top:198.2px;width:118px;height:94px;border-radius:12px;background:#f4f4f4"></div>
<div class="t" style="left:2210.0px;width:600px;text-align:center;top:215.7px;font-size:15.5px;line-height:15.5px;color:#333;">900S</div>
<div class="t" style="left:2210.0px;width:600px;text-align:center;top:245.7px;font-size:15.5px;line-height:15.5px;color:#333;">80%</div>
<div class="box" style="left:2581.1px;top:198.2px;width:118px;height:94px;border-radius:12px;background:#f4f4f4"></div>
<div class="t" style="left:2340.1px;width:600px;text-align:center;top:215.7px;font-size:15.5px;line-height:15.5px;color:#333;">1800S</div>
<div class="t" style="left:2340.1px;width:600px;text-align:center;top:245.7px;font-size:15.5px;line-height:15.5px;color:#333;">75%</div>
<div class="box" style="left:2711.2px;top:198.2px;width:118px;height:94px;border-radius:12px;background:#f4f4f4"></div>
<div class="t" style="left:2470.2px;width:600px;text-align:center;top:215.7px;font-size:15.5px;line-height:15.5px;color:#333;">3600S</div>
<div class="t" style="left:2470.2px;width:600px;text-align:center;top:245.7px;font-size:15.5px;line-height:15.5px;color:#333;">70%</div>
<div class="t" style="left:2196.5px;top:333.5px;font-size:16px;line-height:16px;color:#333;"><span class="c">买</span><span class="c">入</span><span class="c">量</span></div>
<div class="box" style="left:2198.5px;top:368px;width:779.3px;height:40.5px;background:#f4f4f4"></div>
<div class="t" style="left:2216.4px;top:380.1px;font-size:17px;line-height:17px;color:#777;"><span class="c">请</span><span class="c">输</span><span class="c">入</span><span class="c">金</span><span class="c">额</span></div>
<div class="box" style="left:2191.0px;top:442px;width:82.4px;height:46.7px;border-radius:6px;background:#f4f4f4"></div>
<div class="t" style="left:1932.2px;width:600px;text-align:center;top:459.5px;font-size:15.2px;line-height:15.2px;color:#333;">30</div>
<div class="box" style="left:2279.8px;top:442px;width:82.4px;height:46.7px;border-radius:6px;background:#f4f4f4"></div>
<div class="t" style="left:2021.0px;width:600px;text-align:center;top:459.5px;font-size:15.2px;line-height:15.2px;color:#333;">100</div>
<div class="box" style="left:2368.6px;top:442px;width:82.4px;height:46.7px;border-radius:6px;background:#f4f4f4"></div>
<div class="t" style="left:2109.8px;width:600px;text-align:center;top:459.5px;font-size:15.2px;line-height:15.2px;color:#333;">200</div>
<div class="box" style="left:2457.4px;top:442px;width:82.4px;height:46.7px;border-radius:6px;background:#f4f4f4"></div>
<div class="t" style="left:2198.6px;width:600px;text-align:center;top:459.5px;font-size:15.2px;line-height:15.2px;color:#333;">500</div>
<div class="box" style="left:2546.2px;top:442px;width:82.4px;height:46.7px;border-radius:6px;background:#f4f4f4"></div>
<div class="t" style="left:2287.4px;width:600px;text-align:center;top:459.5px;font-size:15.2px;line-height:15.2px;color:#333;">1000</div>
<div class="box" style="left:2635.0px;top:442px;width:82.4px;height:46.7px;border-radius:6px;background:#f4f4f4"></div>
<div class="t" style="left:2376.2px;width:600px;text-align:center;top:459.5px;font-size:15.2px;line-height:15.2px;color:#333;">2000</div>
<div class="box" style="left:2723.8px;top:442px;width:82.4px;height:46.7px;border-radius:6px;background:#f4f4f4"></div>
<div class="t" style="left:2465.0px;width:600px;text-align:center;top:459.5px;font-size:15.2px;line-height:15.2px;color:#333;">5000</div>
<div class="t" style="left:2196.5px;top:614.8px;font-size:14.2px;line-height:14.2px;color:#7c8698;"><span class="c">账</span><span class="c">户</span><span class="c">余</span><span class="c">额</span><span class="c">：</span>976205.5701 USDT</div>
<div class="box" style="left:2191px;top:690.4px;width:357px;height:47.3px;border-radius:12px;background:#0ecb81"></div>
<div class="t" style="left:2069.5px;width:600px;text-align:center;top:707.8px;font-size:15px;line-height:15px;color:#fff;"><span class="c">买</span><span class="c">涨</span></div>
<div class="box" style="left:2628px;top:690.4px;width:357.6px;height:47.3px;border-radius:12px;background:#f6465d"></div>
<div class="t" style="left:2506.8px;width:600px;text-align:center;top:707.8px;font-size:15px;line-height:15px;color:#fff;"><span class="c">买</span><span class="c">跌</span></div>
<div class="box" style="left:0;top:884px;width:3000px;height:424px;background:#fff"></div>
<div class="box" style="left:0;top:884px;width:3000px;height:46.5px;background:#e5eaf2"></div>
<div class="box" style="left:0;top:930.5px;width:3000px;height:1px;background:#dde3ea"></div>
<div class="box" style="left:0;top:884px;width:123px;height:46.5px;background:#fff"></div>
<div class="box" style="left:0;top:884px;width:123px;height:2.2px;background:#1a7cf5"></div>
<div class="t" style="left:24.7px;top:900.3px;font-size:18.5px;line-height:18.5px;color:#1e2329;font-weight:bold;"><span class="c">当</span><span class="c">前</span><span class="c">委</span><span class="c">托</span></div>
<div class="t" style="left:146.9px;top:897.8px;font-size:18.5px;line-height:18.5px;color:#333;"><span class="c">历</span><span class="c">史</span><span class="c">委</span><span class="c">托</span></div>
<svg class="box" style="left:2940px;top:888px" width="40" height="34" viewBox="0 0 40 34">
<g fill="none" stroke="#2f2f2f" stroke-width="1.7" stroke-linecap="round">
<path d="M11.6 9.7A10.7 10.7 0 0 1 29.7 12.8"/><path d="M30.5 7.2V17.2"/>
<path d="M9.7 21.2A10.7 10.7 0 0 0 27.4 24.3"/><path d="M8.9 16.8V26.8"/>
</g></svg>
<div class="t" style="left:-129.4px;width:600px;text-align:center;top:949.8px;font-size:18px;line-height:18px;color:#7c8698;">ID <span class="c">当</span><span class="c">前</span></div>
<div class="t" style="left:-129.4px;width:600px;text-align:center;top:1004.2px;font-size:14.5px;line-height:14.5px;color:#2a2a2a;">670</div>
<div class="t" style="left:230.0px;width:600px;text-align:center;top:949.8px;font-size:18px;line-height:18px;color:#7c8698;"><span class="c">交</span><span class="c">易</span><span class="c">对</span></div>
<div class="t" style="left:230.0px;width:600px;text-align:center;top:1004.2px;font-size:14.5px;line-height:14.5px;color:#2a2a2a;">BTC/USDT</div>
<div class="t" style="left:542.7px;width:600px;text-align:center;top:949.8px;font-size:18px;line-height:18px;color:#7c8698;"><span class="c">方</span><span class="c">向</span></div>
<div class="t" style="left:542.7px;width:600px;text-align:center;top:1004.2px;font-size:14.5px;line-height:14.5px;color:#0ecb81;transform:skewX(-13deg);"><span class="c">买</span><span class="c">涨</span></div>
<div class="t" style="left:802.5px;width:600px;text-align:center;top:949.8px;font-size:18px;line-height:18px;color:#7c8698;"><span class="c">状</span><span class="c">态</span></div>
<div class="t" style="left:802.5px;width:600px;text-align:center;top:1004.2px;font-size:14.5px;line-height:14.5px;color:#2a2a2a;"><span class="c">待</span><span class="c">结</span><span class="c">算</span></div>
<div class="t" style="left:1133.8px;width:600px;text-align:center;top:949.8px;font-size:18px;line-height:18px;color:#7c8698;"><span class="c">委</span><span class="c">托</span><span class="c">额</span><span class="c">度</span></div>
<div class="t" style="left:1133.8px;width:600px;text-align:center;top:1004.2px;font-size:14.5px;line-height:14.5px;color:#2a2a2a;">30.00</div>
<div class="t" style="left:1555.8px;width:600px;text-align:center;top:949.8px;font-size:18px;line-height:18px;color:#7c8698;"><span class="c">建</span><span class="c">仓</span><span class="c">单</span><span class="c">价</span></div>
<div class="t" style="left:1555.8px;width:600px;text-align:center;top:1004.2px;font-size:14.5px;line-height:14.5px;color:#2a2a2a;">22747.650000</div>
<div class="t" style="left:2084.0px;width:600px;text-align:center;top:949.8px;font-size:18px;line-height:18px;color:#7c8698;"><span class="c">建</span><span class="c">仓</span><span class="c">时</span><span class="c">间</span></div>
<div class="t" style="left:2084.0px;width:600px;text-align:center;top:1004.2px;font-size:14.5px;line-height:14.5px;color:#2a2a2a;">2022-06-14 16:21:38</div>
<div class="t" style="left:2548.3px;width:600px;text-align:center;top:949.8px;font-size:18px;line-height:18px;color:#7c8698;"><span class="c">倒</span><span class="c">计</span><span class="c">时</span></div>
<div class="t" style="left:2548.3px;width:600px;text-align:center;top:1004.2px;font-size:14.5px;line-height:14.5px;color:#2a2a2a;">0</div>
<div class="box" style="left:0;top:984px;width:3000px;height:1.3px;background:#dde3ea"></div>
<div class="box" style="left:0;top:1308px;width:3000px;height:222px;background:#1a1b21"></div>
<div class="t" style="left:55.3px;top:1363.2px;font-size:43px;line-height:43px;color:#fff;font-weight:bold;">BITWISE</div>
<div class="t" style="left:2427.7px;top:1374.9px;font-size:19px;line-height:19px;color:#8c929d;"><span class="c">关</span><span class="c">于</span><span class="c">我</span><span class="c">们</span></div>
<div class="t" style="left:2565.0px;top:1374.9px;font-size:19px;line-height:19px;color:#8c929d;">MSB<span class="c">证</span><span class="c">书</span></div>
<div class="t" style="left:2700.0px;top:1374.9px;font-size:19px;line-height:19px;color:#8c929d;"><span class="c">服</span><span class="c">务</span><span class="c">条</span><span class="c">款</span></div>
<div class="t" style="left:2836.7px;top:1374.9px;font-size:19px;line-height:19px;color:#8c929d;"><span class="c">隐</span><span class="c">私</span><span class="c">政</span><span class="c">策</span><span class="c">申</span><span class="c">明</span></div>
<div class="box" style="left:57px;top:1419px;width:2915.5px;height:1.2px;background:#484d56"></div>
<div class="t" style="left:1214.5px;width:600px;text-align:center;top:1465.2px;font-size:18.95px;line-height:18.95px;color:#8c929d;">CopyRight © 2017 - 2022 Bitwise. All Rights Reserved.</div>
</body></html>
